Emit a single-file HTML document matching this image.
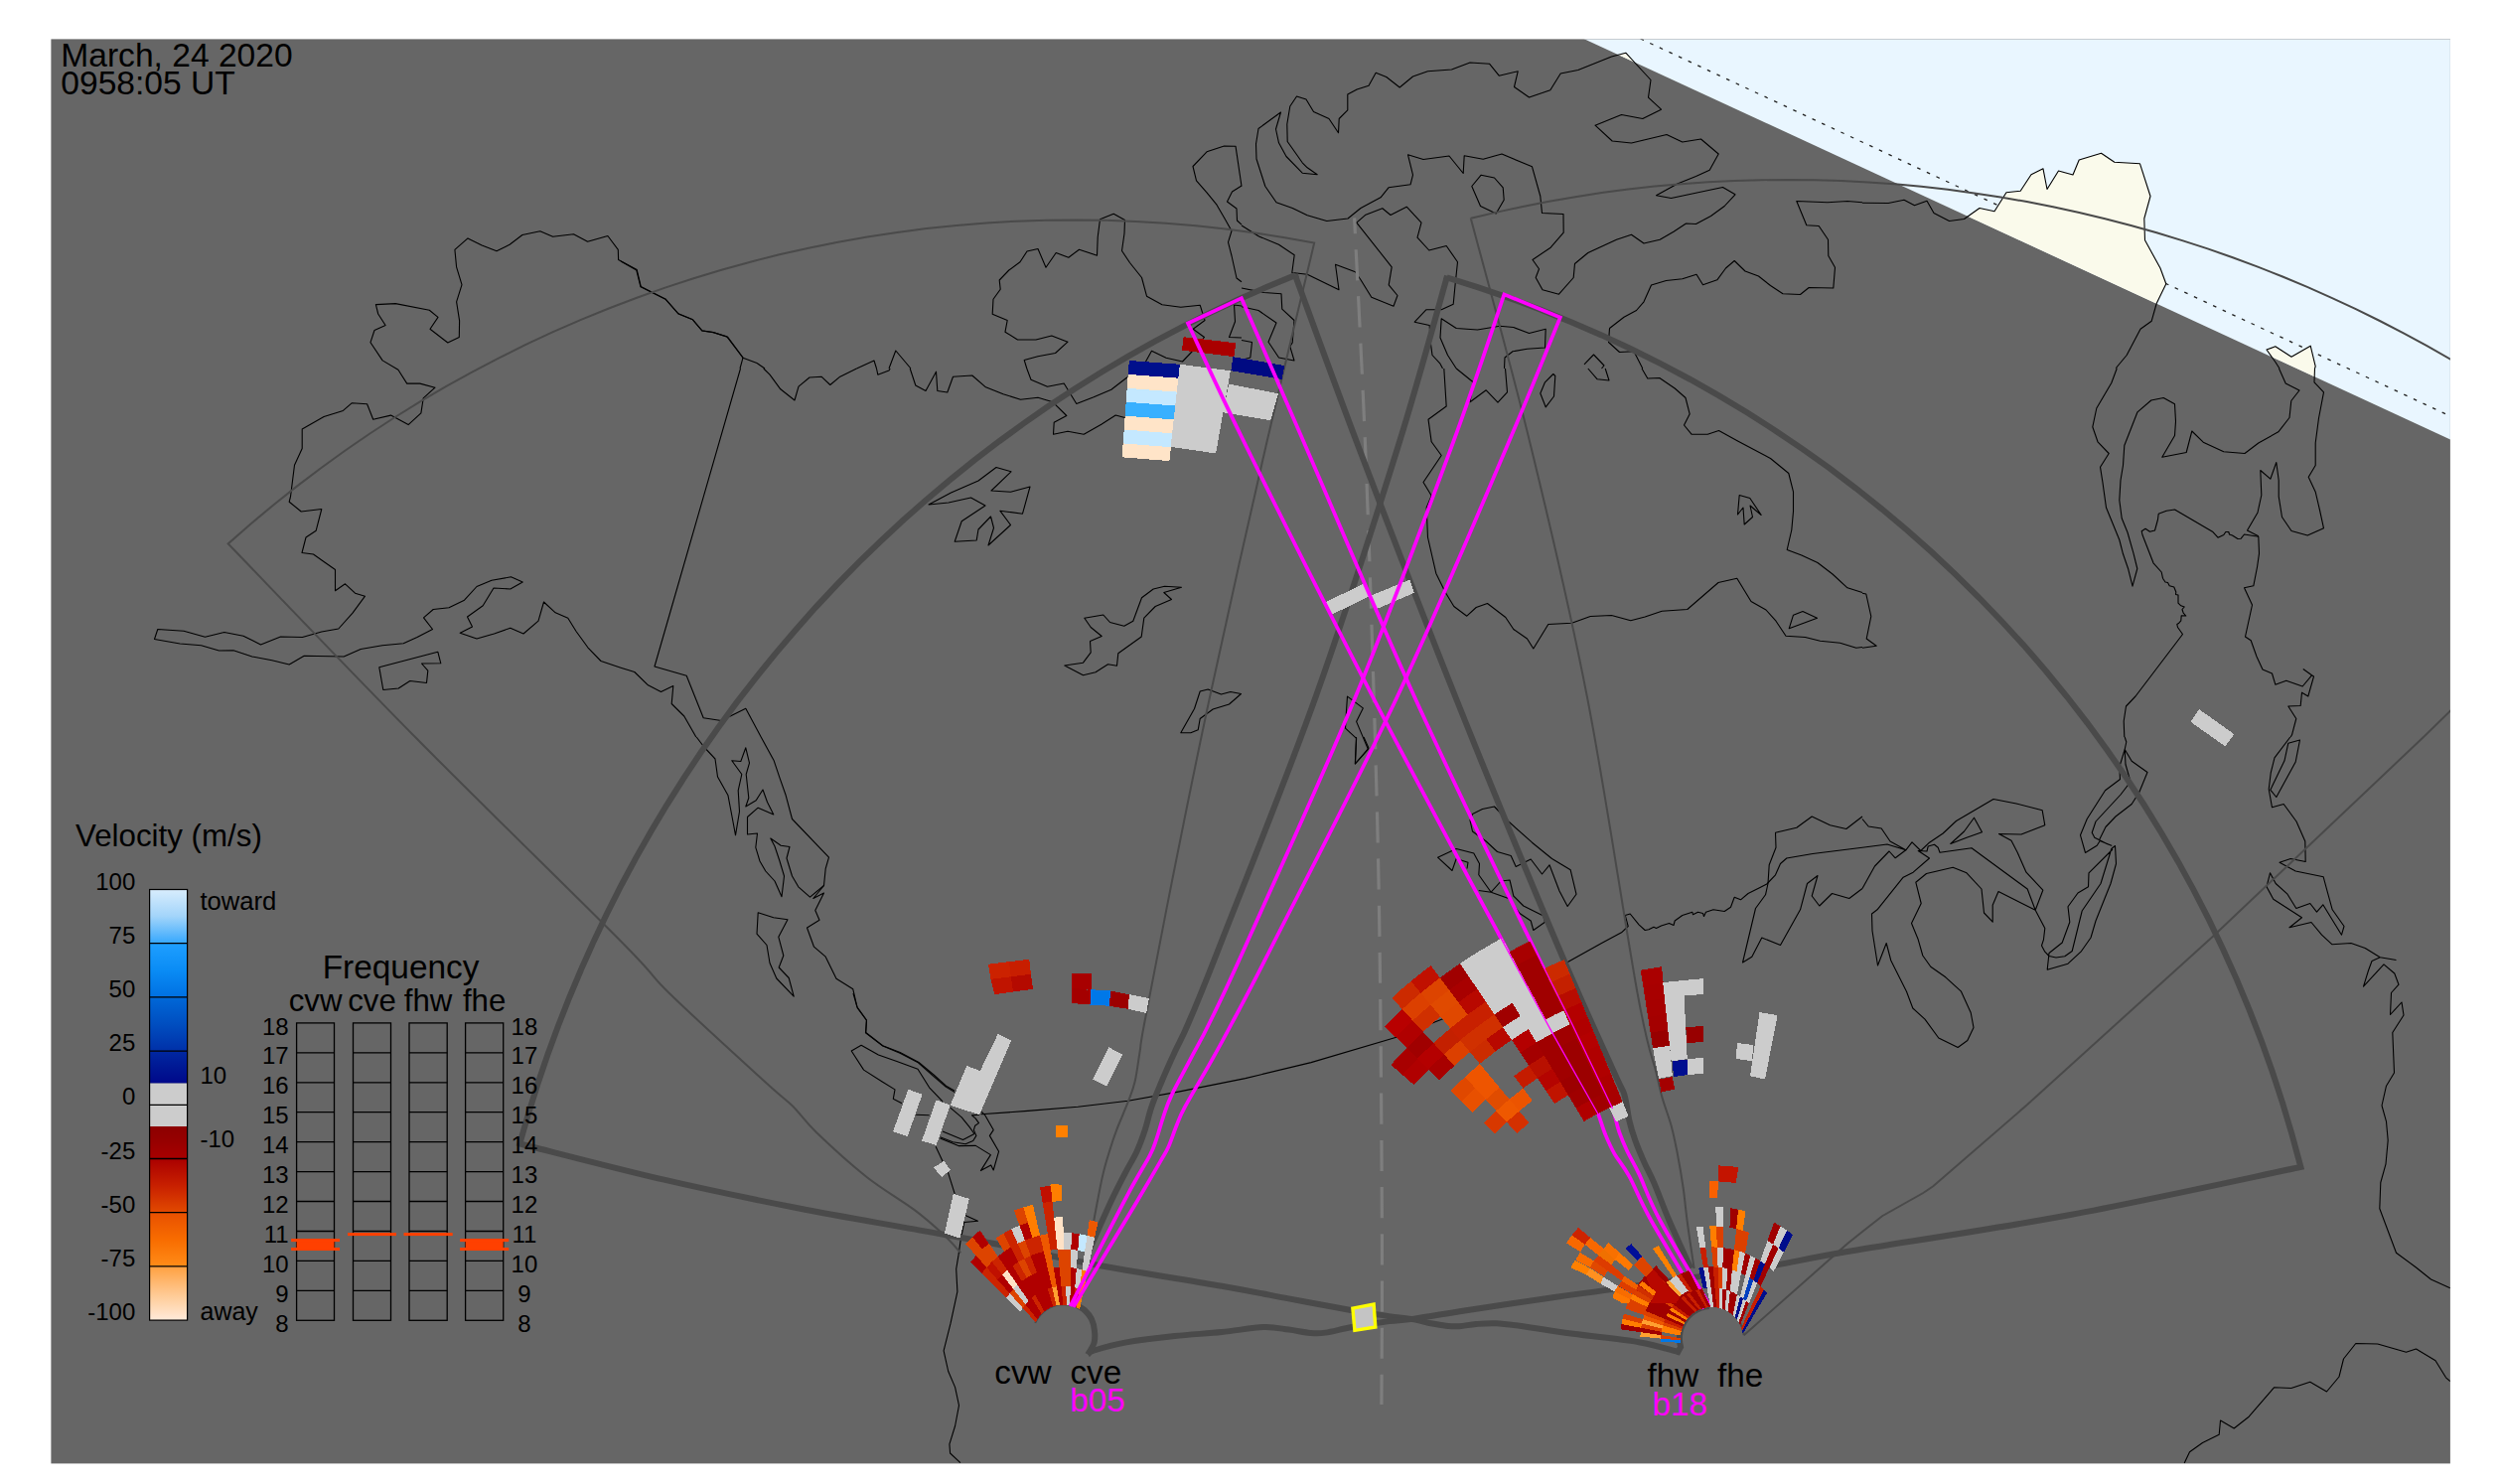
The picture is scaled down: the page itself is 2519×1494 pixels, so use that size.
<!DOCTYPE html>
<html><head><meta charset="utf-8"><title>Radar map</title>
<style>
html,body{margin:0;padding:0;background:#fff;}
body{width:2519px;height:1494px;overflow:hidden;}
svg{display:block;}
text{font-family:"Liberation Sans",sans-serif;fill:#000;}
.c{fill:none;stroke:#000;stroke-width:1.1;stroke-linejoin:round;}
.tk{fill:none;stroke:#4a4a4a;stroke-width:6;stroke-linejoin:miter;}
.tn{fill:none;stroke:#4a4a4a;stroke-width:2;}
.mg{fill:none;stroke:#ff00ff;stroke-width:3.7;stroke-linejoin:miter;}
</style></head><body>
<svg width="2519" height="1494" viewBox="0 0 2519 1494">
<rect x="0" y="0" width="2519" height="1494" fill="#fff"/>
<clipPath id="mapclip"><rect x="51.4" y="39.4" width="2415.5" height="1434"/></clipPath>
<rect x="51.4" y="39.4" width="2415.5" height="1434" fill="#666666"/>
<g clip-path="url(#mapclip)">
<path d="M1594.4,39 L2566.75,488.5 L2567,39 Z" fill="#e9f6ff"/>
<clipPath id="dayclip"><path d="M1594.4,39 L2566.75,488.5 L2567,39 Z"/></clipPath>
<path d="M1651.6,39 L2466.75,418.8" stroke="#222" stroke-width="1.3" stroke-dasharray="3.6,7" fill="none"/>
<g clip-path="url(#dayclip)">
<path d="M1289.5,113 1267,129.5 1264.5,145 1265,160 1273.8,187.5 1285,203.8 1301.2,209.5 1316.2,216.8 1335.8,222.5 1357,220 1370,209.5 1390,198.8 1398,188.8 1420,185.8 1422.5,176.2 1417.5,155.8 1433,160.5 1459,157 1473.2,174.5 1474.2,156.8 1493.2,160.2 1512,155 1542.5,167.8 1550.8,197.5 1552.5,214.5 1574,215.5 1574.2,234.2 1561.2,249.2 1543,261.5 1549.5,270.8 1546.2,279.5 1553,291.8 1569.5,296.2 1584.2,279.5 1585.5,265.5 1598.8,254.5 1627.5,241.2 1642.5,236.2 1655,245 1671.2,241.2 1685,233.2 1697.5,225 1707.5,225.5 1722.5,217.5 1736.2,207.5 1747,195.8 1734.5,188.5 1682.5,199.5 1667.5,196.8 1688.8,185 1707.5,177.5 1721.2,171.2 1730.2,155 1712.5,140 1693.8,143 1678,135.5 1642.5,144 1623.2,142 1606,126.2 1632.5,115.5 1653.8,119.5 1672.5,110.2 1659.5,98.2 1662,80.5 1650,67.5 1636.8,53.2 1622.5,57 1588.8,70.5 1571.2,74 1560.8,90.8 1539.5,98 1524.5,87.5 1528.2,71.8 1509.2,76.2 1499.5,64.2 1480,63 1461.5,70 1437.5,71.8 1422.5,77 1409.2,88 1395.8,77.5 1385.2,73.2 1378,86.2 1366.2,90 1356.8,95 1356.8,110.8 1348.2,119.5 1347.5,133.8 1338,119.5 1322.5,112.5 1315,100 1305.5,97 1298.8,107 1295.8,125 1296.2,142.5 1311.2,163.8 1316.2,168.8 1326.2,175.8 1311.2,174.2 1295,157.5 1287.5,143.8 1284.5,130Z" fill="#fafaeb"/>
<path d="M1875,204.2 1901.2,204.5 1917,201.2 1927.5,206.8 1940,202.2 1947,214.5 1962.5,222.5 1977.5,220.5 1993,209.5 2008,212.8 2020,193.8 2034.2,192.2 2045,175.8 2057,169.8 2061,190.5 2072.5,172 2087,176 2093.2,161 2115.5,154.2 2128.8,163.2 2154.5,164.8 2165,197.5 2158.8,220 2159.5,241.8 2175,270 2180.8,285.8 2171.2,305.5 2166.2,323.2 2155,331.2 2141.2,357.5 2131.2,369.5 2130.5,371 1875,371Z" fill="#fafaeb"/>
<path d="M2295,371 2291.2,365 2282,352 2290.8,348.8 2307,359.2 2326.2,348.2 2331.2,368.8 2330.5,371 2330.5,425 2295,425Z" fill="#fafaeb"/>
</g>
<path class="c" d="M292.5,500 296.5,468.3 304.2,451.5 304.2,431.9 326.1,419.5 345.4,413.4 354.4,405.7 369.6,406.7 375.7,422.2 393.5,418.1 411.1,427.6 423.9,415.8 426.2,400.9 438,390.2 422.8,386.1 409.7,386.1 400.9,372.3 385.1,362.9 373,344.7 377,332.5 388.1,327.5 380.7,316 378.4,306.6 398.2,305.6 432.3,312.3 441,319.4 433,331.2 450.8,345 462.3,339.6 462.6,322.8 459.6,303.9 465,286.7 459.6,268.9 457.9,251.3 471,239.9 485.2,247 500,252.7 513.1,246.3 525.9,236.5 543.8,232.8 556.6,238.2 577.5,235.8 591.6,243.3 611.9,237.5 622.3,251.3 622.6,261.5 641.2,271.6 645.2,288.4 669.8,300.9 683,316 697.4,321.8 706.9,332.9 718,334.6 731.8,338.9 748.3,360.5"/>
<path class="c" d="M625,263 640.8,272 645,288.8 670,301.2 683,315.8 697.5,321.8 706.8,333 718,334.5 732.5,339.2 748,360.2 762,365.5 770,371"/>
<path class="c" d="M748,360.2 745,371"/>
<path class="c" d="M862.5,371 880,363 882.5,371"/>
<path class="c" d="M895,371 901.8,353 917,371"/>
<path class="c" d="M1033.8,371 1031.2,362.5 1045,358.8 1062.5,355.5 1075,344.2 1058.8,338 1043,342 1024.5,342 1012,334.2 1014.2,322.5 999.2,316.2 1000,301.2 1007.2,291.2 1006.2,282 1015.8,272 1027,263.8 1034,253 1045,250.5 1053,269.2 1063.2,254.5 1075.8,259.2 1086.5,251.2 1104.5,257.2 1105.2,238.8 1107.5,220.8 1121.2,215.2 1132.5,221.5 1132,235 1129.5,252.5 1137.5,264.5 1149.5,279.5 1154.5,298.2 1170,306.8 1188.8,309.2 1208.2,307.2 1210.8,315.5 1213,322.5 1201.2,331.2 1212.5,339.5 1203.8,350 1190.5,364 1174,360.2 1159.5,353.2 1152,366.8 1150,371"/>
<path class="c" d="M1250,187.5 1244,147.2 1232.5,147 1215,152.8 1201,167.5 1204.5,181.8 1215,193.8 1225,206.2 1233,220 1240,232.5 1236.5,243.8 1240,257.5 1245,280 1250,283.8"/>
<path class="c" d="M1250,187 1240.5,193 1235.5,203 1245,210 1245.5,222 1250,226.2"/>
<path class="c" d="M1250,340 1237.5,339.5 1243.5,323.8 1242.5,307 1250,308"/>
<path class="c" d="M1289.5,113 1267,129.5 1264.5,145 1265,160 1273.8,187.5 1285,203.8 1301.2,209.5 1316.2,216.8 1335.8,222.5 1357,220 1370,209.5 1390,198.8 1398,188.8 1420,185.8 1422.5,176.2 1417.5,155.8 1433,160.5 1459,157 1473.2,174.5 1474.2,156.8 1493.2,160.2 1512,155 1542.5,167.8 1550.8,197.5 1552.5,214.5 1574,215.5 1574.2,234.2 1561.2,249.2 1543,261.5 1549.5,270.8 1546.2,279.5 1553,291.8 1569.5,296.2 1584.2,279.5 1585.5,265.5 1598.8,254.5 1627.5,241.2 1642.5,236.2 1655,245 1671.2,241.2 1685,233.2 1697.5,225 1707.5,225.5 1722.5,217.5 1736.2,207.5 1747,195.8 1734.5,188.5 1682.5,199.5 1667.5,196.8 1688.8,185 1707.5,177.5 1721.2,171.2 1730.2,155 1712.5,140 1693.8,143 1678,135.5 1642.5,144 1623.2,142 1606,126.2 1632.5,115.5 1653.8,119.5 1672.5,110.2 1659.5,98.2 1662,80.5 1650,67.5 1636.8,53.2 1622.5,57 1588.8,70.5 1571.2,74 1560.8,90.8 1539.5,98 1524.5,87.5 1528.2,71.8 1509.2,76.2 1499.5,64.2 1480,63 1461.5,70 1437.5,71.8 1422.5,77 1409.2,88 1395.8,77.5 1385.2,73.2 1378,86.2 1366.2,90 1356.8,95 1356.8,110.8 1348.2,119.5 1347.5,133.8 1338,119.5 1322.5,112.5 1315,100 1305.5,97 1298.8,107 1295.8,125 1296.2,142.5 1311.2,163.8 1316.2,168.8 1326.2,175.8 1311.2,174.2 1295,157.5 1287.5,143.8 1284.5,130Z"/>
<path class="c" d="M1491.2,176.2 1504.5,179 1513.2,188.8 1514.2,201.2 1506.2,215 1490.5,207.5 1481.8,187.5Z"/>
<path class="c" d="M1250,227 1267.5,238 1287.5,246.2 1303.2,256.8 1300.8,274.5 1316.2,276.2 1348,291.8 1344.5,266.2 1364.5,273.8 1370,281.8 1380.8,299.2 1403,308.2 1407,297.5 1398.2,286.8 1401.2,268.8 1365.8,224.2 1375,216.2 1391.8,209.8 1400,216.5 1416.2,208.2 1431,224.2 1427,239.2 1438.8,252 1456.2,247.5 1467.5,263.8 1465,287.5 1463.2,306.2 1451.2,311.8 1435.8,311.8 1424.2,324.2 1439.2,327.5 1440,342.5 1442,357.5 1450,366.2 1452.5,371"/>
<path class="c" d="M1250,290 1272.5,294.5 1290,295.8 1290.8,311.2 1303,322.5 1301.2,345 1298.8,348.8 1303,363 1287.5,360 1277,344.2 1285,325 1267,312.5 1250,308.8"/>
<path class="c" d="M1250,342.5 1260.5,344.5 1258.8,360 1250,362.5"/>
<path class="c" d="M1466.2,371 1457.5,357.5 1450,340 1451.2,320.8 1466.2,330.5 1487.5,332 1510,328.2 1523.8,329.5 1539.5,335.5 1556.2,331.2 1555.5,350 1537.5,351.2 1523,353.8 1515,360 1514.5,371"/>
<path class="c" d="M1653.8,371 1645,353.8 1630.5,354.5 1619.5,344.5 1620.5,330.5 1635,319.2 1647.5,312.5 1655,303.8 1662.5,287 1677.5,282.5 1693.8,280.8 1708,276.2 1714.5,286.8 1728.8,281.8 1737.5,270 1746.2,262.5 1757,273 1770.5,278 1782.5,287.5 1795,295.8 1812.5,296.5 1821.2,289.5 1845.8,290 1847.5,269.2 1840.8,257.5 1840.5,241.2 1831.2,227.5 1818.8,226.8 1808.8,202.5 1840,203.8 1860,202.5 1875,203.8"/>
<path class="c" d="M1595,366.8 1604.5,357 1615,368 1612.5,371"/>
<path class="c" d="M1875,204.2 1901.2,204.5 1917,201.2 1927.5,206.8 1940,202.2 1947,214.5 1962.5,222.5 1977.5,220.5 1993,209.5 2008,212.8 2020,193.8 2034.2,192.2 2045,175.8 2057,169.8 2061,190.5 2072.5,172 2087,176 2093.2,161 2115.5,154.2 2128.8,163.2 2154.5,164.8 2165,197.5 2158.8,220 2159.5,241.8 2175,270 2180.8,285.8 2171.2,305.5 2166.2,323.2 2155,331.2 2141.2,357.5 2131.2,369.5 2130.5,371"/>
<path class="c" d="M2295,371 2291.2,365 2282,352 2290.8,348.8 2307,359.2 2326.2,348.2 2331.2,368.8 2330.5,371"/>
<path class="c" d="M292.5,500 291.2,505.2 303.2,515 323.8,512.5 318.2,534.2 308,541 304,556.5 315.5,558 325,564.8 337.5,573.5 337.5,594.8 347.5,587.8 357.5,597.2 367.5,600.2 355,617.2 340.8,633 323.8,636 304.5,641.5 282.5,641 262.5,649 245,640.2 225.8,636.5 206.5,641.2 185,635.2 158.8,633.5 155.5,643.5 181.2,648 202.5,649.8 220.5,655 235,654.8 253.8,661 273.8,664.8 291.2,669 306.2,660.2 346.2,661 363.2,653.5 385,649.8 406.2,647.8 420,641.5 435.5,633.5 426.5,621.8 436.2,613.5 452,611.8 467.5,604.2 480,590.5 495,584.2 514.5,580.8 526.2,586 513.8,593 497,592 486.2,609.8 470.5,621 475.5,631 463.2,637.2 480,643 497.5,638 513.8,632.2 527,638 542,625.2 547.5,606 559.2,616.8 571.8,622.2 580,635.5 591.8,651.8 605,665.5 625,672.2"/>
<path class="c" d="M381.8,671.8 440.8,656.2 443.8,667.8 424.5,668 430.8,675.2 429.5,687.5 412.8,685.5 401.2,693 385.8,694.5Z"/>
<path class="c" d="M745.5,371 659,671 691.2,680.2 708.2,722.8 726.2,725.5 750.8,713.2 766.2,742"/>
<path class="c" d="M625,672.2 638.8,676.5 652.5,689.8 665.5,696.5 677.8,690.5 676.2,708.5 688.8,721 700.8,742"/>
<path class="c" d="M768.8,371 775,377.2 785.8,391.8 800,403 804,389.2 815,380 827,379.2 835.8,387.5 845.8,379.2 862.5,371"/>
<path class="c" d="M882.5,371 883.8,377.2 895,373 896.2,371"/>
<path class="c" d="M916.2,371 921.8,388 932,393.5 942.5,374.2 943.8,393.5 953.8,395 959.5,379.2 978.8,378 992.5,389.8 1010,396.8 1027.5,402.2 1045,400.2 1060,404.8 1073.8,418.5 1061.2,425.2 1060.5,437.2 1075,434.2 1091.2,437.2 1108.8,427.2 1123.2,418 1132.5,420.5"/>
<path class="c" d="M1033.8,371 1038,382.2 1054.5,389.2 1071.2,386 1083.8,406.5 1101.2,399.8 1118.8,392.2 1135,379.8"/>
<path class="c" d="M935,508 957.5,496 985,484 1003,470.5 1018,474.8 998,494 1017.5,495.2 1037,490 1029.5,517.2 1006.8,514.2 1017.5,528.5 995,549 1000.5,531.5 997.5,520 985,533 983.2,544 961.2,545.2 968.2,524.8 992,509 977.5,501 955,506Z"/>
<path class="c" d="M1071.8,670 1090.5,667.2 1098.2,656.8 1097.5,645.5 1109.2,640.5 1098.2,631.5 1091.8,622.2 1110.8,619 1117.5,626.5 1131.8,630.2 1140.8,625.2 1149.5,601.8 1161.2,593 1172.5,590.2 1189.5,591.2 1171.8,596.5 1179.5,603.5 1163.2,610.5 1151.8,622.2 1149.2,641 1125.8,657.8 1124.5,670.2 1115.5,668.8 1103,676.8 1090.5,679.8Z"/>
<path class="c" d="M1188.8,737.8 1202.5,713.5 1208.2,696 1216.2,694 1229.5,699 1238.8,696.5 1249.5,698.5 1237.5,709 1221.2,714 1208.2,723.5 1206.2,734.8 1198.8,737.8Z"/>
<path class="c" d="M1453.8,371 1456.2,409 1438,422.2 1441.2,444.8 1451.2,458.5 1433,485.5 1441.2,499 1436.2,511 1437.5,541 1445.8,577.2 1455,596 1463.8,610.5 1476.8,620.2 1486.2,611.5 1497.5,607.5 1515.8,621.5 1523.8,633.5 1537.5,643 1543.8,653 1558.8,628.5 1582.5,627.2 1601.2,620.5 1622.5,619.5 1641.8,624.8 1656.2,621 1673.2,615.2 1698.8,613.5 1730,586.5 1748.8,582.2 1763,605.5 1778,614 1788,625.2 1798,640.2 1817.5,641.5 1832.5,645.2 1852.5,647.2 1868.8,652.2 1875,651.5"/>
<path class="c" d="M1466.2,371 1483.2,384.8 1480,404.8 1496.2,392.8 1508,405.2 1517.5,394.8 1515.5,371"/>
<path class="c" d="M1550.8,396 1555.5,384.8 1563.8,376.5 1565.8,378.5 1564.5,399 1556.2,409.8Z"/>
<path class="c" d="M1598.8,371 1608.2,381.8 1620,383 1616.2,371"/>
<path class="c" d="M1653,371 1658.8,381 1670.8,380.5 1686.2,391 1697,400.5 1701.2,416.8 1695.5,428 1703,437.2 1719.2,437.2 1730.5,433.5 1750,444.2 1782.5,461.5 1800.8,476.5 1805.5,495.2 1805.5,514.8 1803.8,533.5 1799.2,553.5 1813.8,559 1830,566.5 1845,578 1860,591.8 1875,596.5"/>
<path class="c" d="M1751.2,498.5 1761.8,501.5 1773.2,518.5 1762,509 1764.5,520.5 1756.2,528 1755,511 1749.5,518Z"/>
<path class="c" d="M1801.2,632.8 1805.5,619.2 1815,615.5 1829.5,622.2Z"/>
<path class="c" d="M1356.5,701.1 1372.3,712.9 1365.6,726.4 1377.4,754.4 1364.3,768.9 1365.6,743.3 1354.5,733.2 1355.5,715.6Z"/>
<path class="c" d="M2131.2,371 2125.8,385.5 2110.8,411 2106.8,429.8 2112,444.8 2123.2,456.5 2114.5,470.2 2117,486 2120.5,511 2133.8,543.5 2137.5,557.8 2142.5,572.2 2147,590.2 2151.8,572.5 2148,557.2 2142,536 2136.2,521.8 2133.8,503.5 2135,483.5 2137.5,468.5 2138.8,448.5 2152,414.8 2165.8,403 2178.2,400.5 2189.5,406.8 2190.5,424.2 2189.5,438.5 2176.8,460.2 2201.2,455.5 2206.8,434 2218.2,445.2 2238.8,454.8 2260,456.5 2273.8,446 2293.8,434.8 2305,420.5 2306.8,403.5 2315,393 2301.2,386 2294.5,371"/>
<path class="c" d="M2330.5,371 2330,384.8 2339.5,394.8 2334.5,421 2331.2,446 2331.2,468.5 2324.2,480.2 2331.2,495.2 2335.5,513.5 2339.5,531.8 2323.2,539 2307,534.5 2297.5,520.5 2294.2,499.8 2294.2,483.5 2291.8,465.5 2285.8,482.2 2275.8,473.5 2276.8,498.5 2273,516 2262.5,534 2273.8,539.8"/>
<path class="c" d="M2138.8,742 2138.2,726 2140.5,711 2150,701 2197.5,638.5 2192.5,631.5 2191.8,628.5 2193.8,627.2 2195.8,624.8 2196.2,619.8 2200.8,620 2198.2,617.2 2197,613.5 2199.2,611 2195.8,609.8 2193,607.2 2193,599 2190.5,598.5 2190.8,596 2188.8,591 2184.2,589.8 2182.5,586.5 2180,586 2177.5,582.2 2176.2,576 2168,566.8 2157,538.5 2156.2,534.8 2160,532.2 2164.5,535.2 2169.5,534 2172.5,523 2173.2,517.2 2181.2,514.2 2189.5,513 2227.5,535.2 2233,541.2 2238.8,538.5 2240.8,535.5 2243.8,535.5 2244.5,538 2247.5,539 2253,542.5 2256.2,542.2 2259.5,538 2273.8,540.2 2274.5,557.2 2272.5,571 2268.8,589.8 2259.5,591.8 2267.5,609 2260.5,641 2266.2,644.8 2272,661 2278,674 2287.5,678 2290.8,689.2 2301.8,685.2 2318.2,691 2327.5,679.8 2318.8,673.5"/>
<path class="c" d="M2327.5,679.8 2329.5,681 2323.8,701 2317.5,697.2 2316.2,710.5 2303.8,711 2311.8,723.5 2307.5,739.8 2306.2,742"/>
<path class="c" d="M1875,597.2 1878.8,598 1883.8,620.5 1879.2,643 1889.2,650.2 1875,652.2"/>
<path class="c" d="M766.2,742 779.2,765.8 785,783.2 791.2,800.8 797.5,824.5 834.5,863.2 831.2,874.5 829.5,891.5 818.8,904.5 829.5,899 820.8,916.5 825,926.2 812.5,934 819.5,953.2 831.2,963.2 842,985.2 858.8,995.8 863,1013.8 872.5,1027 871.8,1039.5 888.8,1052.8 906.2,1059.5 925,1069.5 940,1082 952.5,1093.2 961.2,1098.2"/>
<path class="c" d="M701.2,742 708.8,752 720,764 722.5,782 733,800.8 737,822 740.5,840.8 744.5,817 743.2,795.8 746.8,779.5 736.8,765.8 745.8,766.5 750.8,752.8 754.5,768.2 751.2,779.5 753.8,803.2 750.8,812 761.2,805.8 768,795 772.5,807.5 778.8,820 763.2,813.2 752.5,822.5 752.5,840 762.5,839 760.8,853.2 765,867 770.8,877 780,887 787,902.8 789.5,882 785,867 780,852 775.8,844 786.2,851.2 795,852.5 792,864 797.5,882 803.8,892.8 815.5,903.2 829.5,891.5"/>
<path class="c" d="M763.2,918.8 778.8,923.8 793,925.8 783.8,943.2 788.8,962 784.2,974 794.2,984.5 799.2,1003.2 781.8,985 775,969.5 772,951.5 762,940.2Z"/>
<path class="c" d="M1482.5,819.5 1492.5,814.5 1504.5,812 1518.8,827 1542.5,848.2 1562.5,864.5 1581.2,875.8 1587,900.2 1578.2,912.5 1570,897 1560,870.8 1552.5,880 1541.2,865 1526.2,872.5 1521.2,861.5 1507.5,857.5 1496.2,847 1482.5,837 1480,825.8Z"/>
<path class="c" d="M1488.8,896.5 1501.2,898.2 1488.8,880.8 1489.5,869.5 1483.8,859 1466.2,854.5 1447.5,863.2 1462,876.5 1466.2,864.5 1478,868.2 1477,874.5"/>
<path class="c" d="M1501.2,898.2 1511.2,887 1520,886 1523.8,902 1533.8,912 1553.8,922 1555.5,928.2 1543.8,936.5 1541.2,927 1530,919.5 1518.8,904.5 1501.2,898.2"/>
<path class="c" d="M1405,1044.5 1475,1017 1577.5,969 1612.5,949.5 1632.5,938.8 1639.2,932.5 1636.2,921.5 1641.2,920 1650,930.8 1656.2,936.5 1660,935.8 1665,933.2 1667.5,934.5 1672.5,932 1680.5,929.5 1685,931.5 1686.2,927 1693.8,921.5 1703.8,918.2 1704.5,920.8 1709.5,918.2 1714.5,919.5 1715.5,922.5 1717.5,918.2 1725,915.8 1736.2,917.5 1742.5,913.2 1746.2,903.2 1752.5,905.8 1760,899.5 1772.5,893.2 1778.8,890 1787.5,880.8 1792.5,869.5 1798.8,864 1825,859.5 1875,853.2"/>
<path class="c" d="M1875,822 1858.8,834.5 1842.5,830.8 1824.2,822 1808.8,833.2 1787.5,838.2 1788,853.2 1781.2,870.8 1780,889.5 1777.5,900.8 1767.5,914.5 1754.5,969 1763.8,963.2 1773.8,944 1792.5,951.5 1812.5,915.8 1819.5,889.5 1830,881.5 1824.2,902 1831.8,912 1844.5,899.5 1861.8,904.5 1875,894.5"/>
<path class="c" d="M1365.5,742 1364.5,769 1378,753.2 1373,742"/>
<path class="c" d="M1875,824.5 1881.2,832 1894.2,834 1903,847 1918.8,855.8 1900,850 1875,853.2"/>
<path class="c" d="M1875,894.5 1887.5,872 1902,857 1908.2,863.8 1918.8,855.8 1925,847.8 1933.8,856.5 1942.5,848.2 1956.2,839 1969.5,826.5 2007,804.5 2030,809 2056.2,815.8 2058.8,830.8 2035,840 2012.5,839.5 2025,846.2 2031.2,858.2 2040,878.2 2056.8,896.2 2049.2,916.2 2012,897.5 2006.2,911.2 2006.2,928.2 1997.5,919 1995,895 1980,878.8 1966.2,873.2 1939.5,879.5 1928.8,888.2 1934.2,909.5 1924.5,929.5 1931.2,945.8 1935.8,962 1943.8,973.2 1958.8,983.8 1974.5,998.2 1984.2,1019.5 1987,1034.5 1980.8,1047.5 1971.2,1054.5 1951.8,1045 1938,1026.2 1925.8,1015 1919.5,998.2 1903.8,967 1899.2,949.5 1890.5,972 1885,937 1884.5,920 1890,915.8 1916.2,883.2 1926.2,878.2 1942.5,864 1931.2,856.5 1940,857 1941.2,852 1947.5,850.2 1951.2,853.2 1953,858.2 1985,853.8 2041.2,895 2049.2,916.2 2058.8,934.5 2057.5,945.8 2055.5,952 2058.8,958.2 2063,962.5 2070,964 2078.8,962.8 2086.2,957.5 2096.2,917 2115,889.5 2125.8,854.5 2129.5,851.5 2130.5,869.5 2125,889.5 2115,914.5 2110,927 2105,944 2095,958.2 2082,970.2 2061.2,976.2 2063,959.5 2076.2,949 2083.8,928.2 2082,912.8 2092,899 2102.5,892.8 2103,878.8 2127,855"/>
<path class="c" d="M1963.8,849.5 1977.5,837 1987.5,823.2 1995.5,837.8 1980,843.2Z"/>
<path class="c" d="M2139.2,742 2140.8,747 2139.2,754.5 2133.8,772 2134.5,784.5 2119.5,795.8 2101.2,824.5 2094.5,840.8 2099.5,858.5 2111.2,851.2 2114.2,846.5 2125.8,851.2 2121.2,849.5 2108.8,843.2 2106.2,838.2 2110,827 2135,800 2145,787 2140,769.5 2139.2,754.5 2146.2,766.2 2162,777.5 2153.8,797.5 2146.2,809.5 2130,822 2120,832.5 2113.8,845"/>
<path class="c" d="M2305.8,742 2290,762.8 2286.2,778.2 2284.2,794.5 2287.5,812.8 2299.2,809.5 2312,827 2320.8,847 2321.2,867.5 2306.2,864.5 2295,868.2 2311.2,877 2339.2,882.8 2342.5,895.2 2348.2,915.8 2360,932.5 2357.5,941.2 2338.8,910.8 2332.5,918.2 2325.8,909.5 2311.8,914.5 2303,900.2 2291.2,889.5 2285.5,878.8 2282,892.8 2288.8,905.2 2317.5,923.8 2305,933.8 2327,928.5 2337.5,941.2 2348,950.8 2367,949.5 2381.2,954.5 2396.2,963.8 2412.5,966.5"/>
<path class="c" d="M2396.2,963.8 2388,967.5 2384.5,977 2379.5,993.2 2400,970.8 2410.8,980 2415,991.2 2407.5,999.5 2406.5,1021.5 2418,1009 2420,1022 2408.8,1039.5 2410.5,1080 2402.5,1093.2 2398,1113"/>
<path class="c" d="M2285.8,795.2 2300,765.8 2303.8,748.2 2315.5,745 2311.2,767 2291.8,802.5Z"/>
<path class="c" d="M2398,1113 2402.5,1129.2 2404.2,1148 2402,1171.8 2396.8,1190.5 2395.8,1216.8 2412.5,1261.2 2432.5,1276 2447.5,1288 2466.8,1296.8"/>
<path class="c" d="M2199.2,1473 2204.5,1461.8 2217.5,1452.5 2234.2,1444.2 2235.5,1430 2249.2,1438 2264.2,1426.2 2289.5,1396.8 2306.8,1397.5 2325.8,1391.2 2342.5,1401 2355,1386 2359.5,1368 2371.8,1352.5 2393.8,1353 2422.5,1361.2 2432.5,1358 2452,1369.8 2462.5,1386.8 2466.8,1390.5"/>
<path class="c" d="M859,1000 863.2,1014.7 872.4,1027.3 871.5,1039.9 888.8,1053.1 906.1,1060.2 924.4,1069.8 939.4,1083.2 952.2,1094.1 961.2,1099.6"/>
<path class="c" d="M949,1108.8 935.6,1094.8 924,1076.2 902.9,1068.5 884.4,1062.1 867.1,1052.2 857.2,1058 869.6,1077.1 888.2,1089 901,1096.9 899.3,1106.3 908,1110.8"/>
<path class="c" d="M922.1,1122.3 935.6,1122.7"/>
<path class="c" d="M987.6,1121.8 1034.8,1118.4 1085.3,1114.2 1135.8,1108.3 1186.4,1099.1 1253.8,1085.6 1320,1069.6 1405,1044.5"/>
<path class="c" d="M956.7,1115.2 968.2,1124.8 975.9,1134.4 981,1141.5 969.5,1147.5 949,1138.9"/>
<path class="c" d="M946.5,1144.7 959.3,1149.8 972.1,1151.7 979.7,1148.5 982.9,1143.4 980.4,1137.6 981.7,1133.2 985.5,1130.6 982.3,1126.1 978.5,1122.9 986.1,1122.3"/>
<path class="c" d="M988.1,1119.1 991.9,1122.9 1000.2,1137.6 996.4,1143.4 1005.6,1159.2 1000.2,1178 997.7,1172.9 987.4,1178.6 997.4,1162.6 982.3,1153.4 965,1153.6 946.5,1146"/>
<path class="c" d="M942.1,1154.2 954.7,1181.2 961.1,1201.4 969.6,1222.5 984.5,1229.3 970.8,1230.5 967.3,1247.7 965,1263.7 962.7,1277.5 963.9,1300.4 957,1332.4 950.1,1359.9 954.7,1380.5 961.6,1396.6 965.5,1414.9 961.6,1435.5 955.9,1453.9 956.6,1463 966.9,1472.6"/>
<path class="tn" d="M967.3,1261.4C964.4,1258.4 957.9,1250.3 950.1,1243.1C942.3,1235.8 933.4,1227.6 920.4,1217.9C907.4,1208.2 888.7,1197.7 872.3,1184.7C855.9,1171.7 834.4,1152.0 821.9,1140C809.4,1128.0 806.0,1121.3 797.5,1113C789.0,1104.7 791.8,1108.8 771.2,1090C750.6,1071.2 698.3,1023.8 673.9,1000C649.5,976.2 667.6,990.5 625,947.5C582.4,904.5 483.9,808.7 418,742C352.1,675.3 261.2,579.9 229.8,547.5 L229.7,547.4 252.4,527.5 275.5,508.2 299.1,489.4 323.1,471.2 347.6,453.5 372.4,436.5 397.7,420 423.3,404.2 449.3,388.9 475.7,374.3 502.4,360.3 529.4,346.9 556.8,334.2 584.4,322.1 612.3,310.7 640.5,300 668.9,289.9 697.5,280.5 726.4,271.7 755.5,263.7 784.7,256.3 814.1,249.7 843.7,243.7 873.3,238.4 903.1,233.9 933,230 963,226.9 993.1,224.4 1023.2,222.7 1053.3,221.7 1083.5,221.4 1113.6,221.8 1143.7,222.9 1173.8,224.8 1203.9,227.3 1233.9,230.6 1263.7,234.6 1293.5,239.2 1323.2,244.6 L1323.2,244.6C1315.0,278.8 1291.8,374.1 1274.3,450C1256.8,525.9 1234.1,627.2 1218.4,700C1202.7,772.8 1191.0,832.0 1180,887C1169.0,942.0 1157.6,1001.4 1152.2,1030C1146.8,1058.6 1149.2,1048.8 1147.6,1058.6C1146.0,1068.4 1144.6,1080.6 1142.6,1089C1140.6,1097.4 1138.9,1101.1 1135.8,1109.2C1132.7,1117.3 1127.2,1129.7 1124.1,1137.8C1121.0,1145.9 1119.5,1150.7 1117.3,1158C1115.0,1165.3 1112.8,1172.0 1110.6,1181.6C1108.3,1191.1 1106.2,1202.7 1103.8,1215.3C1101.4,1227.9 1097.5,1250.4 1096.3,1257.4"/>
<path class="tn" d="M1705.6,1277C1704.4,1269.0 1700.4,1242.6 1698.6,1229C1696.8,1215.4 1696.3,1207.0 1694.6,1195.5C1692.9,1184.0 1690.6,1170.7 1688.6,1160.3C1686.6,1149.9 1685.1,1142.4 1682.6,1133.2C1680.1,1124.0 1676.0,1114.0 1673.5,1105.1C1671.0,1096.2 1671.7,1097.5 1667.5,1080C1663.3,1062.5 1660.2,1063.0 1648.6,1000C1637.0,937.0 1615.9,793.7 1598,702C1580.1,610.3 1561.0,530.4 1541.4,450C1521.9,369.6 1490.8,257.8 1480.7,219.4 L1480.8,219.8 1507,213.6 1533.2,208 1559.6,202.8 1586.1,198.2 1612.6,194.1 1639.3,190.6 1666,187.6 1692.8,185.2 1719.6,183.3 1746.4,182 1773.3,181.2 1800.1,180.9 1827,181.2 1853.9,182 1880.7,183.4 1907.5,185.3 1934.3,187.8 1961,190.8 1987.6,194.4 2014.2,198.4 2040.6,203.1 2067,208.2 2093.3,214 2119.4,220.2 2145.4,227 2171.3,234.2 2197,242.1 2222.6,250.4 2247.9,259.2 2273.1,268.6 2298.1,278.5 2322.9,288.9 2347.5,299.8 2371.8,311.1 2395.9,323 2419.8,335.4 2443.4,348.2 2466.7,361.5 2489.8,375.3"/>
<path class="tn" d="M1755.7,1344.2 1860,1252 1875,1240 1895,1224.25 1936.25,1201 1946.25,1194.25 2040,1113 2228.75,942 2440,742 2466.7,716 2500,683"/>
<path d="M1363.6,219.4C1365.4,257.8 1371.2,366.2 1374.6,450C1378.0,533.8 1381.4,640.2 1383.8,722C1386.2,803.8 1387.6,854.7 1388.9,941C1390.2,1027.3 1391.1,1161.2 1391.4,1240C1391.7,1318.8 1391.0,1385.0 1390.9,1414" stroke="#7e7e7e" stroke-width="3.2" stroke-dasharray="31.2,16" stroke-dashoffset="15.2" fill="none"/>
<path class="tn" d="M1720.6,1315 1724.5,1314.9 1728.4,1315.3 1732.2,1316.1 1735.9,1317.4 1739.4,1319.1 1742.6,1321.2 1745.6,1323.7 1748.3,1326.5 1750.6,1329.6 1752.5,1333 1754.1,1336.6 1755.1,1340.4 1755.7,1344.2"/>
<path class="tn" d="M1042.2,1331.9 1043.7,1328.9 1045.5,1326.2 1047.6,1323.6 1049.9,1321.2 1052.4,1319.2 1055.2,1317.4 1058.1,1315.9 1061.2,1314.7 1064.4,1313.8 1067.7,1313.3 1071,1313.2 1074.3,1313.4 1077.5,1314"/>
<path class="tk" d="M1702.3,1277C1698.7,1269.0 1686.7,1243.3 1680.6,1229C1674.5,1214.7 1669.7,1201.2 1665.5,1191.4C1661.3,1181.6 1658.7,1177.6 1655.5,1170.4C1652.3,1163.2 1648.9,1155.3 1646.4,1148.3C1643.9,1141.3 1642.2,1135.9 1640.4,1128.2C1638.6,1120.5 1637.9,1110.1 1635.4,1102.1C1632.9,1094.1 1636.6,1105.3 1625.3,1080C1614.0,1054.7 1594.3,1013.3 1567.5,950C1540.7,886.7 1498.0,783.3 1464.7,700C1431.4,616.7 1394.6,520.5 1367.8,450C1341.0,379.4 1314.5,305.6 1303.8,276.7 L1304,277.1 1275.2,289 1246.7,301.6 1218.5,314.9 1190.7,328.8 1163.2,343.4 1136,358.6 1109.2,374.5 1082.8,391 1056.8,408.1 1031.2,425.9 1006,444.2 981.2,463.1 957,482.6 933.1,502.7 909.8,523.3 887,544.5 864.6,566.2 842.8,588.4 821.5,611.1 800.8,634.4 780.6,658.1 761,682.3 741.9,706.9 723.5,732 705.6,757.5 688.4,783.4 671.7,809.8 655.7,836.5 640.3,863.6 625.6,891 611.5,918.8 598.1,946.9 585.4,975.3 573.3,1004 561.9,1033 551.2,1062.3 541.2,1091.8 531.9,1121.5 523.3,1151.4 L523.6,1151.5C547.8,1157.5 621.9,1176.9 668.5,1187.7C715.1,1198.5 761.3,1208.0 803.2,1216.3C845.1,1224.6 886.4,1231.3 920,1237.4C953.6,1243.5 974.4,1246.9 1004.7,1252.8C1035.0,1258.7 1064.2,1266.0 1101.7,1273C1139.2,1280.0 1197.4,1289.1 1230,1294.8C1262.6,1300.5 1275.5,1303.3 1297.4,1307.4C1319.3,1311.5 1344.6,1316.2 1361.4,1319.2C1378.2,1322.2 1388.1,1323.6 1398.5,1325.1C1408.9,1326.6 1416.7,1327.2 1423.7,1328.4C1430.7,1329.6 1435.3,1331.2 1440.6,1332.3C1445.9,1333.3 1450.9,1334.2 1455.7,1334.7C1460.5,1335.2 1464.1,1335.5 1469.2,1335.2C1474.3,1334.9 1479.9,1333.5 1486.1,1333C1492.3,1332.5 1498.4,1331.9 1506.3,1332.3C1514.2,1332.7 1520.3,1333.5 1533.2,1335.2C1546.1,1337.0 1564.3,1340.1 1583.8,1342.8C1603.3,1345.5 1632.4,1348.2 1650,1351.2C1667.6,1354.2 1682.8,1359.4 1689.4,1361 L1692.1,1356 1691.3,1352.3 1690.9,1348.5 1691,1344.7 1691.5,1340.9 1692.5,1337.3 1693.9,1333.8 1695.7,1330.4 1697.9,1327.3 1700.4,1324.5 1703.2,1321.9 1706.3,1319.8 1709.7,1317.9 1713.2,1316.5 1716.8,1315.6 1720.6,1315"/>
<path class="tk" d="M1097.1,1257.4C1100.8,1249.3 1113.1,1221.2 1119,1208.6C1124.9,1196.0 1128.3,1189.8 1132.5,1181.6C1136.7,1173.4 1140.9,1167.0 1144.3,1159.7C1147.7,1152.4 1150.2,1145.4 1152.7,1137.8C1155.2,1130.2 1156.6,1122.3 1159.4,1114.2C1162.2,1106.1 1165.6,1098.3 1169.5,1089C1173.4,1079.7 1178.5,1068.4 1183,1058.6C1187.5,1048.8 1188.8,1048.1 1196.5,1030C1204.2,1011.9 1207.5,1005.0 1228.9,950C1250.4,895.0 1295.5,783.3 1325.2,700C1355.0,616.7 1385.4,520.4 1407.4,450C1429.4,379.6 1448.8,306.5 1457.1,277.8 L1456.6,279.3 1488.4,289.3 1519.9,300.1 1551.1,311.7 1581.9,324.2 1612.5,337.4 1642.6,351.5 1672.4,366.3 1701.8,382 1730.7,398.4 1759.3,415.5 1787.3,433.4 1814.9,452.1 1842,471.4 1868.5,491.5 1894.5,512.3 1920,533.7 1944.8,555.8 1969.1,578.6 1992.8,602 2015.8,626 2038.3,650.6 2060,675.8 2081.1,701.5 2101.5,727.8 2121.2,754.7 2140.1,782 2158.4,809.9 2175.9,838.2 2192.6,866.9 2208.6,896.1 2223.8,925.7 2238.2,955.7 2251.9,986.1 2264.7,1016.8 2276.7,1047.8 2287.9,1079.2 2298.2,1110.8 2307.7,1142.7 2316.4,1174.9 L2315.8,1175C2277.2,1183.0 2160.3,1208.8 2084.3,1223C2008.3,1237.2 1911.3,1251.3 1860,1260C1808.7,1268.7 1816.3,1269.1 1776.7,1275.4C1737.1,1281.8 1657.5,1293.0 1622.5,1298.1C1587.5,1303.1 1590.2,1302.3 1566.9,1305.7C1543.6,1309.1 1506.6,1314.7 1482.7,1318.3C1458.8,1321.9 1437.7,1325.6 1423.7,1327.6C1409.7,1329.6 1408.9,1328.7 1398.5,1330.1C1388.1,1331.5 1372.1,1334.1 1361.4,1336C1350.7,1337.9 1341.4,1340.6 1334.4,1341.6C1327.4,1342.6 1325.5,1342.4 1319.3,1341.9C1313.1,1341.4 1305.3,1339.6 1297.4,1338.6C1289.5,1337.6 1283.3,1335.6 1272.1,1336C1260.9,1336.4 1244.9,1339.6 1230,1341.1C1215.1,1342.6 1198.6,1343.3 1182.6,1345C1166.6,1346.7 1147.5,1349.0 1134,1351.4C1120.5,1353.8 1108.2,1357.5 1101.7,1359.5C1095.2,1361.5 1096.4,1362.9 1095.3,1363.6"/>
<path class="tk" d="M1095.3,1363.6C1096.3,1361.7 1100.4,1355.9 1101.5,1352C1102.6,1348.1 1102.4,1344.0 1102,1340C1101.6,1336.0 1100.7,1331.5 1099,1328C1097.3,1324.5 1094.5,1321.3 1092,1319C1089.5,1316.7 1085.3,1314.8 1084,1314" stroke-linejoin="round"/>
<g shape-rendering="crispEdges">
<path d="M1191.6,339.2 1244.4,345.3 1242.3,359.2 1190.0,352.7Z" fill="#aa0000"/>
<path d="M1241.4,359.2 1293.2,368.0 1290.7,381.9 1239.3,373.2Z" fill="#000a82"/>
<path d="M1136.8,363.0 1187.9,366.8 1186.4,380.7 1135.8,376.9Z" fill="#00108c"/>
<path d="M1135.8,376.9 1186.4,380.7 1184.9,394.6 1134.7,390.8Z" fill="#ffe4c8"/>
<path d="M1134.7,390.8 1184.9,394.6 1183.4,408.5 1133.7,404.7Z" fill="#c4e8ff"/>
<path d="M1133.7,404.7 1183.4,408.5 1181.9,422.4 1132.7,418.6Z" fill="#38b0ff"/>
<path d="M1132.7,418.6 1181.9,422.4 1180.4,436.3 1131.7,432.5Z" fill="#ffe4c8"/>
<path d="M1131.7,432.5 1180.4,436.3 1178.9,450.2 1130.6,446.4Z" fill="#c4e8ff"/>
<path d="M1130.6,446.4 1178.9,450.2 1177.4,464.1 1129.6,460.3Z" fill="#ffe4c8"/>
<path d="M1187.9,366.8 1238.9,373.2 1224.1,456.5 1178.6,449.8Z" fill="#cccccc"/>
<path d="M1237.2,386.6 1286.9,396.2 1279.3,423.2 1231.3,415.2Z" fill="#cccccc"/>
<path d="M1335.0,606.0 1373.8,587.2 1380.0,599.8 1341.2,618.5Z" fill="#cccccc"/>
<path d="M1378.8,600.2 1419.5,583.5 1423.8,596.8 1386.2,613.0Z" fill="#cccccc"/>
<path d="M2214.0,714.0 2249.4,739.2 2240.3,751.3 2205.6,726.8Z" fill="#cccccc"/>
<path d="M995.0,970.8 1015.8,968.2 1017.9,983.3 997.5,985.8Z" fill="#cc2200"/>
<path d="M1015.8,968.2 1036.2,965.8 1038.0,980.8 1017.9,983.3Z" fill="#c81e00"/>
<path d="M997.5,985.8 1017.9,983.3 1020.0,998.5 1001.2,1001.2Z" fill="#c01400"/>
<path d="M1017.9,983.3 1038.0,980.8 1040.0,995.8 1020.0,998.5Z" fill="#b40a00"/>
<path d="M1078.8,979.5 1098.8,980.2 1098.8,997.0 1078.8,994.5Z" fill="#a80000"/>
<path d="M1078.8,994.5 1098.2,997.0 1097.5,1011.5 1079.2,1010.0Z" fill="#a40000"/>
<path d="M1098.2,996.2 1118.0,997.5 1117.0,1012.8 1097.5,1011.5Z" fill="#0078e8"/>
<path d="M1118.0,997.5 1137.0,1001.2 1135.5,1015.8 1117.0,1012.8Z" fill="#9c0000"/>
<path d="M1137.0,1001.2 1156.8,1005.0 1154.2,1020.0 1135.5,1015.8Z" fill="#cccccc"/>
<path d="M1116.5,1054.4 1130.0,1061.7 1114.0,1093.7 1100.1,1086.4Z" fill="#cccccc"/>
<path d="M1004.7,1041.0 1018.2,1047.4 986.1,1122.3 956.7,1112.7 973.3,1073.0 986.8,1078.1Z" fill="#cccccc"/>
<path d="M914.4,1096.7 928.5,1101.8 913.8,1144.0 899.1,1139.2Z" fill="#cccccc"/>
<path d="M942.6,1107.3 956.7,1112.7 942.6,1153.0 928.1,1148.5Z" fill="#cccccc"/>
<path d="M940.0,1175.4 950.3,1168.8 957.0,1178.0 948.0,1185.0Z" fill="#cccccc"/>
<path d="M959.8,1201.8 975.8,1206.9 966.5,1246.5 951.0,1241.4Z" fill="#cccccc"/>
<path d="M1063.0,1132.8 1075.1,1132.5 1074.8,1144.7 1062.7,1144.9Z" fill="#ff8000"/>
<path d="M1056.7,1192.6 1065.9,1192.1 1065.9,1208.2 1058.4,1208.2Z" fill="#ff8000"/>
</g>
<g shape-rendering="crispEdges">
<path d="M1027.3,1320.7 1013.2,1306.8 1016.6,1302.1 1029.6,1316.7Z" fill="#cccccc"/>
<path d="M1013.2,1306.8 1000.2,1293.9 1004.4,1288.5 1016.6,1302.1Z" fill="#cc2400"/>
<path d="M1000.2,1293.9 988.3,1282.1 993.3,1276.0 1004.4,1288.5Z" fill="#cc2400"/>
<path d="M988.3,1282.1 976.9,1270.9 982.7,1264.1 993.3,1276.0Z" fill="#b00000"/>
<path d="M1042.8,1331.5 1029.6,1316.7 1032.4,1313.1 1044.4,1328.4Z" fill="#cc2400"/>
<path d="M1029.6,1316.7 1016.6,1302.1 1020.3,1297.7 1032.4,1313.1Z" fill="#dd4400"/>
<path d="M1016.6,1302.1 1004.4,1288.5 1009.1,1283.4 1020.3,1297.7Z" fill="#b00000"/>
<path d="M1004.4,1288.5 993.3,1276.0 998.7,1270.2 1009.1,1283.4Z" fill="#c01000"/>
<path d="M993.3,1276.0 982.7,1264.1 988.9,1257.7 998.7,1270.2Z" fill="#dd4400"/>
<path d="M982.7,1264.1 972.0,1252.1 979.0,1245.1 988.9,1257.7Z" fill="#dd4400"/>
<path d="M1044.4,1328.4 1032.4,1313.1 1035.4,1309.6 1046.3,1325.5Z" fill="#b00000"/>
<path d="M1032.4,1313.1 1020.3,1297.7 1024.4,1293.6 1035.4,1309.6Z" fill="#cccccc"/>
<path d="M1020.3,1297.7 1009.1,1283.4 1014.1,1278.6 1024.4,1293.6Z" fill="#ffe2c6"/>
<path d="M1009.1,1283.4 998.7,1270.2 1004.7,1264.9 1014.1,1278.6Z" fill="#cc2400"/>
<path d="M998.7,1270.2 988.9,1257.7 995.7,1251.8 1004.7,1264.9Z" fill="#dd4400"/>
<path d="M988.9,1257.7 979.0,1245.1 986.6,1238.6 995.7,1251.8Z" fill="#b00000"/>
<path d="M1046.3,1325.5 1035.4,1309.6 1038.8,1306.5 1048.6,1322.9Z" fill="#b00000"/>
<path d="M1035.4,1309.6 1024.4,1293.6 1028.8,1289.9 1038.8,1306.5Z" fill="#b00000"/>
<path d="M1024.4,1293.6 1014.1,1278.6 1019.5,1274.3 1028.8,1289.9Z" fill="#b00000"/>
<path d="M1014.1,1278.6 1004.7,1264.9 1011.0,1260.0 1019.5,1274.3Z" fill="#b00000"/>
<path d="M1048.6,1322.9 1038.8,1306.5 1042.5,1303.7 1051.2,1320.5Z" fill="#cc2400"/>
<path d="M1038.8,1306.5 1028.8,1289.9 1033.6,1286.5 1042.5,1303.7Z" fill="#b00000"/>
<path d="M1028.8,1289.9 1019.5,1274.3 1025.3,1270.5 1033.6,1286.5Z" fill="#cc2400"/>
<path d="M1019.5,1274.3 1011.0,1260.0 1017.6,1255.7 1025.3,1270.5Z" fill="#b00000"/>
<path d="M1011.0,1260.0 1002.8,1246.5 1010.4,1241.6 1017.6,1255.7Z" fill="#dd4400"/>
<path d="M1051.2,1320.5 1042.5,1303.7 1046.4,1301.2 1054.0,1318.5Z" fill="#b00000"/>
<path d="M1042.5,1303.7 1033.6,1286.5 1038.6,1283.6 1046.4,1301.2Z" fill="#b00000"/>
<path d="M1033.6,1286.5 1025.3,1270.5 1031.3,1267.1 1038.6,1283.6Z" fill="#dd4400"/>
<path d="M1025.3,1270.5 1017.6,1255.7 1024.6,1251.9 1031.3,1267.1Z" fill="#cc2400"/>
<path d="M1017.6,1255.7 1010.4,1241.6 1018.2,1237.4 1024.6,1251.9Z" fill="#cc2400"/>
<path d="M1054.0,1318.5 1046.4,1301.2 1050.5,1299.1 1057.0,1316.7Z" fill="#b00000"/>
<path d="M1046.4,1301.2 1038.6,1283.6 1043.9,1281.1 1050.5,1299.1Z" fill="#b00000"/>
<path d="M1038.6,1283.6 1031.3,1267.1 1037.6,1264.2 1043.9,1281.1Z" fill="#cc2400"/>
<path d="M1031.3,1267.1 1024.6,1251.9 1031.9,1248.6 1037.6,1264.2Z" fill="#dd4400"/>
<path d="M1024.6,1251.9 1018.2,1237.4 1026.4,1233.7 1031.9,1248.6Z" fill="#cccccc"/>
<path d="M1057.0,1316.7 1050.5,1299.1 1054.8,1297.4 1060.2,1315.4Z" fill="#b00000"/>
<path d="M1050.5,1299.1 1043.9,1281.1 1049.3,1279.0 1054.8,1297.4Z" fill="#b00000"/>
<path d="M1043.9,1281.1 1037.6,1264.2 1044.2,1261.8 1049.3,1279.0Z" fill="#b00000"/>
<path d="M1037.6,1264.2 1031.9,1248.6 1039.4,1245.9 1044.2,1261.8Z" fill="#cc2400"/>
<path d="M1031.9,1248.6 1026.4,1233.7 1034.9,1230.7 1039.4,1245.9Z" fill="#b00000"/>
<path d="M1026.4,1233.7 1020.9,1218.7 1030.3,1215.4 1034.9,1230.7Z" fill="#dd4400"/>
<path d="M1060.2,1315.4 1054.8,1297.4 1059.3,1296.1 1063.5,1314.3Z" fill="#cc2400"/>
<path d="M1054.8,1297.4 1049.3,1279.0 1054.9,1277.4 1059.3,1296.1Z" fill="#b00000"/>
<path d="M1049.3,1279.0 1044.2,1261.8 1050.8,1259.9 1054.9,1277.4Z" fill="#b00000"/>
<path d="M1044.2,1261.8 1039.4,1245.9 1047.1,1243.7 1050.8,1259.9Z" fill="#cc2400"/>
<path d="M1039.4,1245.9 1034.9,1230.7 1043.5,1228.4 1047.1,1243.7Z" fill="#ff7e00"/>
<path d="M1034.9,1230.7 1030.3,1215.4 1039.9,1212.8 1043.5,1228.4Z" fill="#ff7e00"/>
<path d="M1063.5,1314.3 1059.3,1296.1 1063.9,1295.3 1067.0,1313.7Z" fill="#ffa030"/>
<path d="M1059.3,1296.1 1054.9,1277.4 1060.7,1276.3 1063.9,1295.3Z" fill="#ee5800"/>
<path d="M1054.9,1277.4 1050.8,1259.9 1057.7,1258.6 1060.7,1276.3Z" fill="#ee5800"/>
<path d="M1050.8,1259.9 1047.1,1243.7 1054.9,1242.2 1057.7,1258.6Z" fill="#ee5800"/>
<path d="M1067.0,1313.7 1063.9,1295.3 1068.5,1294.9 1070.4,1313.5Z" fill="#b00000"/>
<path d="M1063.9,1295.3 1060.7,1276.3 1066.5,1275.7 1068.5,1294.9Z" fill="#b00000"/>
<path d="M1057.7,1258.6 1054.9,1242.2 1062.8,1241.3 1064.6,1257.8Z" fill="#cc2400"/>
<path d="M1054.9,1242.2 1052.3,1226.6 1061.2,1225.6 1062.8,1241.3Z" fill="#cc2400"/>
<path d="M1052.3,1226.6 1049.6,1210.9 1059.5,1209.7 1061.2,1225.6Z" fill="#cc2400"/>
<path d="M1049.6,1210.9 1047.0,1195.1 1057.8,1193.7 1059.5,1209.7Z" fill="#c01000"/>
<path d="M1070.4,1313.5 1068.5,1294.9 1073.1,1294.9 1073.9,1313.7Z" fill="#cc2400"/>
<path d="M1068.5,1294.9 1066.5,1275.7 1072.3,1275.6 1073.1,1294.9Z" fill="#dd4400"/>
<path d="M1066.5,1275.7 1064.6,1257.8 1071.5,1257.6 1072.3,1275.6Z" fill="#dd4400"/>
<path d="M1064.6,1257.8 1062.8,1241.3 1070.8,1241.0 1071.5,1257.6Z" fill="#ffe2c6"/>
<path d="M1062.8,1241.3 1061.2,1225.6 1070.1,1225.2 1070.8,1241.0Z" fill="#ffe2c6"/>
<path d="M1059.5,1209.7 1057.8,1193.7 1068.8,1193.2 1069.4,1209.2Z" fill="#ff7e00"/>
<path d="M1073.9,1313.7 1073.1,1294.9 1077.7,1295.3 1077.3,1314.2Z" fill="#cccccc"/>
<path d="M1073.1,1294.9 1072.3,1275.6 1078.1,1276.0 1077.7,1295.3Z" fill="#dd4400"/>
<path d="M1072.3,1275.6 1071.5,1257.6 1078.4,1257.9 1078.1,1276.0Z" fill="#dd4400"/>
<path d="M1071.5,1257.6 1070.8,1241.0 1078.8,1241.3 1078.4,1257.9Z" fill="#cccccc"/>
<path d="M1077.3,1314.2 1077.7,1295.3 1082.3,1296.2 1080.7,1315.2Z" fill="#b00000"/>
<path d="M1077.7,1295.3 1078.1,1276.0 1083.8,1276.9 1082.3,1296.2Z" fill="#b00000"/>
<path d="M1078.1,1276.0 1078.4,1257.9 1085.3,1258.8 1083.8,1276.9Z" fill="#cccccc"/>
<path d="M1078.4,1257.9 1078.8,1241.3 1086.7,1242.2 1085.3,1258.8Z" fill="#b00000"/>
<path d="M1080.7,1315.2 1082.3,1296.2 1086.7,1297.5 1083.9,1316.5Z" fill="#cc2400"/>
<path d="M1082.3,1296.2 1083.8,1276.9 1089.5,1278.2 1086.7,1297.5Z" fill="#cccccc"/>
<path d="M1085.3,1258.8 1086.7,1242.2 1094.5,1243.8 1092.1,1260.3Z" fill="#c4e8ff"/>
<path d="M1083.9,1316.5 1086.7,1297.5 1091.0,1299.1 1087.0,1318.2Z" fill="#ff7e00"/>
<path d="M1086.7,1297.5 1089.5,1278.2 1095.0,1280.0 1091.0,1299.1Z" fill="#ff7e00"/>
<path d="M1089.5,1278.2 1092.1,1260.3 1098.7,1262.3 1095.0,1280.0Z" fill="#cccccc"/>
<path d="M1092.1,1260.3 1094.5,1243.8 1102.2,1245.9 1098.7,1262.3Z" fill="#cccccc"/>
<path d="M1094.5,1243.8 1096.8,1228.1 1105.4,1230.4 1102.2,1245.9Z" fill="#ee5800"/>
</g>
<path class="mg" d="M1077.5,1315C1080.5,1309.2 1085.7,1298.9 1095.4,1280C1105.1,1261.1 1125.4,1221.3 1135.8,1201.8C1146.2,1182.3 1152.9,1172.4 1157.7,1163.1C1162.5,1153.8 1162.2,1152.7 1164.5,1146.2C1166.8,1139.7 1168.7,1131.6 1171.2,1124.3C1173.7,1117.0 1174.8,1112.5 1179.6,1102.4C1184.4,1092.3 1193.6,1075.8 1199.9,1063.7C1206.2,1051.6 1208.4,1049.0 1217.6,1030C1226.8,1011.0 1230.4,1005.0 1255,950C1279.6,895.0 1330.9,783.3 1365.3,700C1399.7,616.7 1436.4,517.3 1461.3,450C1486.2,382.7 1505.6,322.0 1514.4,296.4 L1570.8,319.6C1561.8,341.3 1544.1,386.6 1516.9,450C1489.7,513.4 1446.6,616.7 1407.4,700C1368.2,783.3 1309.8,895.0 1281.9,950C1254.1,1005.0 1250.6,1010.5 1240.3,1030C1230.0,1049.5 1228.0,1053.1 1220.1,1067.1C1212.2,1081.1 1199.0,1103.2 1193.1,1114.2C1187.2,1125.2 1187.5,1126.0 1184.7,1132.8C1181.9,1139.5 1179.1,1148.5 1176.3,1154.7C1173.5,1160.9 1173.2,1160.5 1167.9,1169.8C1162.6,1179.0 1155.2,1191.8 1144.3,1210.2C1133.3,1228.6 1112.8,1262.4 1102.2,1280C1091.6,1297.6 1084.3,1309.9 1080.7,1315.9"/>
<path class="mg" d="M1715.3,1317.5C1706.5,1302.8 1675.0,1251.2 1662.5,1229C1650.0,1206.8 1646.6,1195.7 1640.4,1184.4C1634.2,1173.1 1629.3,1168.3 1625.3,1161.3C1621.3,1154.3 1619.0,1148.7 1616.3,1142.2C1613.6,1135.7 1611.6,1128.2 1609.3,1122.2C1607.0,1116.2 1606.2,1113.1 1602.2,1106.1C1598.2,1099.1 1600.8,1107.7 1585.2,1080C1569.6,1052.3 1542.7,1003.3 1508.7,940C1474.7,876.7 1423.6,781.7 1381.3,700C1339.0,618.3 1285.9,512.4 1255,450C1224.1,387.6 1205.8,346.2 1196,325.5 L1249.9,300.2C1260.7,325.2 1285.9,383.4 1314.8,450C1343.7,516.6 1386.3,618.3 1423.4,700C1460.5,781.7 1506.8,876.7 1537.3,940C1567.8,1003.3 1592.6,1052.8 1606.3,1080C1620.0,1107.2 1616.3,1096.7 1619.3,1103.1C1622.3,1109.5 1622.4,1112.0 1624.3,1118.2C1626.2,1124.4 1628.1,1133.4 1630.4,1140.2C1632.8,1147.0 1635.1,1152.3 1638.4,1159.3C1641.7,1166.3 1644.9,1170.8 1650.4,1182.4C1655.9,1194.0 1659.6,1206.9 1671.5,1229C1683.4,1251.1 1713.3,1300.7 1721.7,1315"/>
<g shape-rendering="crispEdges">
<path d="M1651.7,976.7 1673.0,973.1 1674.6,989.0 1654.2,992.4Z" fill="#aa0000"/>
<path d="M1654.2,992.4 1674.6,989.0 1676.2,1004.9 1656.7,1008.1Z" fill="#a80000"/>
<path d="M1656.7,1008.1 1676.2,1004.9 1677.8,1020.9 1659.1,1023.9Z" fill="#a60000"/>
<path d="M1659.1,1023.9 1677.8,1020.9 1679.4,1036.8 1661.6,1039.6Z" fill="#a40000"/>
<path d="M1661.6,1039.6 1679.4,1036.8 1681.0,1052.7 1664.1,1055.3Z" fill="#980000"/>
<path d="M1664.1,1055.3 1681.0,1052.7 1683.8,1083.2 1670.0,1085.8Z" fill="#cccccc"/>
<path d="M1670.0,1086.5 1683.8,1084.0 1686.2,1096.5 1672.5,1099.5Z" fill="#a40000"/>
<path d="M1674.2,989.1 1694.9,987.0 1698.7,1066.2 1682.7,1068.3Z" fill="#cccccc"/>
<path d="M1683.8,1068.2 1698.8,1066.5 1699.5,1082.0 1685.0,1084.0Z" fill="#000e90"/>
<path d="M1694.9,987.0 1714.9,985.2 1715.1,1000.9 1695.3,1002.6Z" fill="#cccccc"/>
<path d="M1697.4,1034.2 1715.3,1032.9 1715.3,1048.9 1698.1,1050.2Z" fill="#980000"/>
<path d="M1699.1,1066.2 1714.7,1064.9 1715.0,1080.8 1699.5,1082.0Z" fill="#cccccc"/>
<path d="M1771.5,1019.2 1789.6,1022.0 1777.0,1086.5 1762.0,1083.2Z" fill="#cccccc"/>
<path d="M1749.2,1050.0 1765.5,1052.0 1763.8,1068.2 1747.5,1065.8Z" fill="#cccccc"/>
<path d="M1730.3,1173.4 1750.3,1174.9 1747.8,1190.9 1729.8,1189.4Z" fill="#c41400"/>
<path d="M1720.7,1189.4 1729.8,1188.9 1729.3,1205.5 1720.7,1206.0Z" fill="#f86000"/>
<path d="M1400.4,1071.9 1408.2,1063.3 1416.2,1054.9 1427.3,1065.7 1419.6,1073.8 1412.0,1082.1Z" fill="#a80000"/>
<path d="M1412.0,1082.1 1419.6,1073.8 1427.3,1065.7 1438.4,1076.6 1430.9,1084.4 1423.7,1092.4Z" fill="#b00000"/>
<path d="M1394.1,1033.3 1402.8,1024.5 1411.8,1016.0 1422.3,1027.4 1413.6,1035.6 1405.1,1044.1Z" fill="#b80000"/>
<path d="M1405.1,1044.1 1413.6,1035.6 1422.3,1027.4 1432.8,1038.8 1424.4,1046.7 1416.2,1054.9Z" fill="#b00000"/>
<path d="M1416.2,1054.9 1424.4,1046.7 1432.8,1038.8 1443.3,1050.1 1435.2,1057.8 1427.3,1065.7Z" fill="#a00000"/>
<path d="M1427.3,1065.7 1435.2,1057.8 1443.3,1050.1 1453.8,1061.5 1446.0,1068.9 1438.4,1076.6Z" fill="#b40000"/>
<path d="M1438.4,1076.6 1446.0,1068.9 1453.8,1061.5 1464.3,1072.9 1456.8,1080.0 1449.4,1087.4Z" fill="#a80000"/>
<path d="M1460.5,1098.2 1467.6,1091.1 1474.9,1084.3 1485.4,1095.6 1478.4,1102.2 1471.6,1109.0Z" fill="#e04800"/>
<path d="M1471.6,1109.0 1478.4,1102.2 1485.4,1095.6 1495.9,1107.0 1489.2,1113.3 1482.7,1119.9Z" fill="#e85000"/>
<path d="M1493.7,1130.7 1500.0,1124.5 1506.4,1118.4 1516.9,1129.7 1510.8,1135.6 1504.8,1141.5Z" fill="#d83800"/>
<path d="M1401.3,1004.7 1410.8,996.1 1420.5,987.8 1430.4,999.7 1421.0,1007.7 1411.8,1016.0Z" fill="#cc2a00"/>
<path d="M1411.8,1016.0 1421.0,1007.7 1430.4,999.7 1440.3,1011.6 1431.2,1019.4 1422.3,1027.4Z" fill="#dc4000"/>
<path d="M1422.3,1027.4 1431.2,1019.4 1440.3,1011.6 1450.2,1023.5 1441.4,1031.0 1432.8,1038.8Z" fill="#d03000"/>
<path d="M1443.3,1050.1 1451.6,1042.6 1460.1,1035.4 1470.1,1047.3 1461.9,1054.3 1453.8,1061.5Z" fill="#c42000"/>
<path d="M1453.8,1061.5 1461.9,1054.3 1470.1,1047.3 1480.0,1059.2 1472.1,1065.9 1464.3,1072.9Z" fill="#dc4000"/>
<path d="M1474.9,1084.3 1482.3,1077.6 1489.9,1071.0 1499.8,1082.9 1492.5,1089.2 1485.4,1095.6Z" fill="#ee5500"/>
<path d="M1485.4,1095.6 1492.5,1089.2 1499.8,1082.9 1509.7,1094.8 1502.7,1100.8 1495.9,1107.0Z" fill="#ee5500"/>
<path d="M1495.9,1107.0 1502.7,1100.8 1509.7,1094.8 1519.7,1106.7 1513.0,1112.5 1506.4,1118.4Z" fill="#e04c00"/>
<path d="M1506.4,1118.4 1513.0,1112.5 1519.7,1106.7 1529.6,1118.6 1523.2,1124.1 1516.9,1129.7Z" fill="#ee5800"/>
<path d="M1516.9,1129.7 1523.2,1124.1 1529.6,1118.6 1539.5,1130.5 1533.4,1135.7 1527.4,1141.1Z" fill="#d43000"/>
<path d="M1420.5,987.8 1430.4,979.8 1440.5,972.0 1449.8,984.3 1440.0,991.9 1430.4,999.7Z" fill="#c01000"/>
<path d="M1430.4,999.7 1440.0,991.9 1449.8,984.3 1459.1,996.7 1449.6,1004.0 1440.3,1011.6Z" fill="#dd4400"/>
<path d="M1440.3,1011.6 1449.6,1004.0 1459.1,996.7 1468.4,1009.1 1459.2,1016.2 1450.2,1023.5Z" fill="#e04a00"/>
<path d="M1450.2,1023.5 1459.2,1016.2 1468.4,1009.1 1477.7,1021.5 1468.8,1028.3 1460.1,1035.4Z" fill="#e04800"/>
<path d="M1460.1,1035.4 1468.8,1028.3 1477.7,1021.5 1487.0,1033.9 1478.4,1040.4 1470.1,1047.3Z" fill="#c82000"/>
<path d="M1470.1,1047.3 1478.4,1040.4 1487.0,1033.9 1496.3,1046.2 1488.1,1052.6 1480.0,1059.2Z" fill="#d03000"/>
<path d="M1480.0,1059.2 1488.1,1052.6 1496.3,1046.2 1505.6,1058.6 1497.7,1064.7 1489.9,1071.0Z" fill="#cc2c00"/>
<path d="M1519.7,1106.7 1526.5,1101.1 1533.5,1095.7 1542.8,1108.1 1536.1,1113.3 1529.6,1118.6Z" fill="#ec5400"/>
<path d="M1449.8,984.3 1459.8,977.0 1469.9,970.0 1478.6,982.8 1468.8,989.6 1459.1,996.7Z" fill="#a00000"/>
<path d="M1459.1,996.7 1468.8,989.6 1478.6,982.8 1487.3,995.6 1477.7,1002.3 1468.4,1009.1Z" fill="#a80000"/>
<path d="M1468.4,1009.1 1477.7,1002.3 1487.3,995.6 1495.9,1008.5 1486.7,1014.9 1477.7,1021.5Z" fill="#b80800"/>
<path d="M1477.7,1021.5 1486.7,1014.9 1495.9,1008.5 1504.6,1021.3 1495.7,1027.5 1487.0,1033.9Z" fill="#c82000"/>
<path d="M1487.0,1033.9 1495.7,1027.5 1504.6,1021.3 1513.2,1034.2 1504.7,1040.1 1496.3,1046.2Z" fill="#d03000"/>
<path d="M1496.3,1046.2 1504.7,1040.1 1513.2,1034.2 1521.9,1047.0 1513.7,1052.7 1505.6,1058.6Z" fill="#b80800"/>
<path d="M1524.2,1083.4 1531.7,1077.9 1539.2,1072.7 1547.9,1085.5 1540.6,1090.5 1533.5,1095.7Z" fill="#c41c00"/>
<path d="M1469.9,970.0 1480.3,963.2 1490.8,956.7 1498.8,969.9 1488.6,976.2 1478.6,982.8Z" fill="#cccccc"/>
<path d="M1478.6,982.8 1488.6,976.2 1498.8,969.9 1506.8,983.2 1496.9,989.3 1487.3,995.6Z" fill="#cccccc"/>
<path d="M1487.3,995.6 1496.9,989.3 1506.8,983.2 1514.8,996.4 1505.3,1002.3 1495.9,1008.5Z" fill="#cccccc"/>
<path d="M1495.9,1008.5 1505.3,1002.3 1514.8,996.4 1522.8,1009.7 1513.6,1015.4 1504.6,1021.3Z" fill="#cccccc"/>
<path d="M1504.6,1021.3 1513.6,1015.4 1522.8,1009.7 1530.8,1023.0 1521.9,1028.4 1513.2,1034.2Z" fill="#a00000"/>
<path d="M1513.2,1034.2 1521.9,1028.4 1530.8,1023.0 1538.8,1036.2 1530.3,1041.5 1521.9,1047.0Z" fill="#cccccc"/>
<path d="M1521.9,1047.0 1530.3,1041.5 1538.8,1036.2 1546.8,1049.5 1538.6,1054.5 1530.6,1059.8Z" fill="#b40000"/>
<path d="M1530.6,1059.8 1538.6,1054.5 1546.8,1049.5 1554.8,1062.7 1546.9,1067.6 1539.2,1072.7Z" fill="#a40000"/>
<path d="M1539.2,1072.7 1546.9,1067.6 1554.8,1062.7 1562.8,1076.0 1555.3,1080.6 1547.9,1085.5Z" fill="#b81000"/>
<path d="M1547.9,1085.5 1555.3,1080.6 1562.8,1076.0 1570.8,1089.2 1563.6,1093.7 1556.6,1098.3Z" fill="#b40400"/>
<path d="M1556.6,1098.3 1563.6,1093.7 1570.8,1089.2 1578.8,1102.5 1572.0,1106.8 1565.2,1111.2Z" fill="#c01400"/>
<path d="M1490.8,956.7 1501.5,950.4 1512.3,944.4 1519.6,958.1 1509.1,963.9 1498.8,969.9Z" fill="#cccccc"/>
<path d="M1498.8,969.9 1509.1,963.9 1519.6,958.1 1526.9,971.7 1516.8,977.3 1506.8,983.2Z" fill="#cccccc"/>
<path d="M1506.8,983.2 1516.8,977.3 1526.9,971.7 1534.2,985.4 1524.4,990.8 1514.8,996.4Z" fill="#cccccc"/>
<path d="M1514.8,996.4 1524.4,990.8 1534.2,985.4 1541.6,999.0 1532.1,1004.2 1522.8,1009.7Z" fill="#cccccc"/>
<path d="M1522.8,1009.7 1532.1,1004.2 1541.6,999.0 1548.9,1012.7 1539.8,1017.7 1530.8,1023.0Z" fill="#cccccc"/>
<path d="M1530.8,1023.0 1539.8,1017.7 1548.9,1012.7 1556.2,1026.3 1547.4,1031.1 1538.8,1036.2Z" fill="#cccccc"/>
<path d="M1538.8,1036.2 1547.4,1031.1 1556.2,1026.3 1563.5,1040.0 1555.1,1044.6 1546.8,1049.5Z" fill="#cccccc"/>
<path d="M1546.8,1049.5 1555.1,1044.6 1563.5,1040.0 1570.8,1053.6 1562.7,1058.1 1554.8,1062.7Z" fill="#a00000"/>
<path d="M1554.8,1062.7 1562.7,1058.1 1570.8,1053.6 1578.1,1067.2 1570.4,1071.5 1562.8,1076.0Z" fill="#a00000"/>
<path d="M1562.8,1076.0 1570.4,1071.5 1578.1,1067.2 1585.5,1080.9 1578.1,1085.0 1570.8,1089.2Z" fill="#a00000"/>
<path d="M1570.8,1089.2 1578.1,1085.0 1585.5,1080.9 1592.8,1094.5 1585.7,1098.4 1578.8,1102.5Z" fill="#9c0000"/>
<path d="M1578.8,1102.5 1585.7,1098.4 1592.8,1094.5 1600.1,1108.2 1593.4,1111.9 1586.8,1115.8Z" fill="#a00000"/>
<path d="M1586.8,1115.8 1593.4,1111.9 1600.1,1108.2 1607.4,1121.8 1601.1,1125.4 1594.8,1129.0Z" fill="#b00000"/>
<path d="M1519.6,958.1 1530.2,952.5 1541.0,947.3 1547.6,961.3 1537.2,966.4 1526.9,971.7Z" fill="#a80000"/>
<path d="M1526.9,971.7 1537.2,966.4 1547.6,961.3 1554.2,975.3 1544.2,980.2 1534.2,985.4Z" fill="#a00000"/>
<path d="M1534.2,985.4 1544.2,980.2 1554.2,975.3 1560.8,989.3 1551.1,994.0 1541.6,999.0Z" fill="#a00000"/>
<path d="M1541.6,999.0 1551.1,994.0 1560.8,989.3 1567.5,1003.3 1558.1,1007.9 1548.9,1012.7Z" fill="#a00000"/>
<path d="M1548.9,1012.7 1558.1,1007.9 1567.5,1003.3 1574.1,1017.3 1565.1,1021.7 1556.2,1026.3Z" fill="#a00000"/>
<path d="M1556.2,1026.3 1565.1,1021.7 1574.1,1017.3 1580.7,1031.3 1572.0,1035.5 1563.5,1040.0Z" fill="#cccccc"/>
<path d="M1563.5,1040.0 1572.0,1035.5 1580.7,1031.3 1587.3,1045.3 1579.0,1049.3 1570.8,1053.6Z" fill="#a00000"/>
<path d="M1570.8,1053.6 1579.0,1049.3 1587.3,1045.3 1593.9,1059.3 1586.0,1063.2 1578.1,1067.2Z" fill="#9c0000"/>
<path d="M1578.1,1067.2 1586.0,1063.2 1593.9,1059.3 1600.5,1073.3 1592.9,1077.0 1585.5,1080.9Z" fill="#9c0000"/>
<path d="M1585.5,1080.9 1592.9,1077.0 1600.5,1073.3 1607.1,1087.3 1599.9,1090.8 1592.8,1094.5Z" fill="#9c0000"/>
<path d="M1592.8,1094.5 1599.9,1090.8 1607.1,1087.3 1613.8,1101.3 1606.9,1104.7 1600.1,1108.2Z" fill="#9c0000"/>
<path d="M1600.1,1108.2 1606.9,1104.7 1613.8,1101.3 1620.4,1115.3 1613.8,1118.5 1607.4,1121.8Z" fill="#a00000"/>
<path d="M1554.2,975.3 1564.4,970.6 1574.7,966.2 1580.6,980.6 1570.7,984.8 1560.8,989.3Z" fill="#cc2a00"/>
<path d="M1560.8,989.3 1570.7,984.8 1580.6,980.6 1586.5,994.9 1576.9,999.0 1567.5,1003.3Z" fill="#c42000"/>
<path d="M1567.5,1003.3 1576.9,999.0 1586.5,994.9 1592.4,1009.2 1583.2,1013.1 1574.1,1017.3Z" fill="#b80c00"/>
<path d="M1574.1,1017.3 1583.2,1013.1 1592.4,1009.2 1598.3,1023.5 1589.4,1027.3 1580.7,1031.3Z" fill="#b40000"/>
<path d="M1580.7,1031.3 1589.4,1027.3 1598.3,1023.5 1604.2,1037.8 1595.7,1041.5 1587.3,1045.3Z" fill="#b00000"/>
<path d="M1587.3,1045.3 1595.7,1041.5 1604.2,1037.8 1610.1,1052.2 1602.0,1055.6 1593.9,1059.3Z" fill="#b40000"/>
<path d="M1593.9,1059.3 1602.0,1055.6 1610.1,1052.2 1616.0,1066.5 1608.2,1069.8 1600.5,1073.3Z" fill="#b00000"/>
<path d="M1600.5,1073.3 1608.2,1069.8 1616.0,1066.5 1621.9,1080.8 1614.5,1084.0 1607.1,1087.3Z" fill="#b00000"/>
<path d="M1607.1,1087.3 1614.5,1084.0 1621.9,1080.8 1627.8,1095.1 1620.7,1098.1 1613.8,1101.3Z" fill="#ac0000"/>
<path d="M1613.8,1101.3 1620.7,1098.1 1627.8,1095.1 1633.7,1109.4 1627.0,1112.3 1620.4,1115.3Z" fill="#a80000"/>
<path d="M1620.4,1115.3 1627.0,1112.3 1633.7,1109.4 1639.6,1123.8 1633.2,1126.5 1627.0,1129.3Z" fill="#cccccc"/>
</g>
<g shape-rendering="crispEdges">
<path d="M1692.2,1351.8 1672.5,1350.9 1672.4,1347.6 1692.0,1349.4Z" fill="#0078e8"/>
<path d="M1692.0,1349.4 1672.4,1347.6 1672.5,1344.2 1691.9,1347.0Z" fill="#dc4000"/>
<path d="M1672.4,1347.6 1651.4,1345.6 1651.7,1341.2 1672.5,1344.2Z" fill="#ffa030"/>
<path d="M1672.5,1344.2 1651.7,1341.2 1652.2,1336.8 1672.8,1340.9Z" fill="#a00000"/>
<path d="M1651.7,1341.2 1631.8,1338.3 1632.5,1333.0 1652.2,1336.8Z" fill="#a00000"/>
<path d="M1692.0,1344.6 1672.8,1340.9 1673.4,1337.5 1692.3,1342.2Z" fill="#ff7e00"/>
<path d="M1672.8,1340.9 1652.2,1336.8 1653.0,1332.5 1673.4,1337.5Z" fill="#dc4000"/>
<path d="M1652.2,1336.8 1632.5,1333.0 1633.5,1327.7 1653.0,1332.5Z" fill="#ff7e00"/>
<path d="M1692.3,1342.2 1673.4,1337.5 1674.1,1334.3 1692.8,1339.9Z" fill="#ff7e00"/>
<path d="M1673.4,1337.5 1653.0,1332.5 1654.0,1328.2 1674.1,1334.3Z" fill="#ffa030"/>
<path d="M1653.0,1332.5 1633.5,1327.7 1634.8,1322.5 1654.0,1328.2Z" fill="#dc4000"/>
<path d="M1692.8,1339.9 1674.1,1334.3 1675.1,1331.1 1693.5,1337.6Z" fill="#dc4000"/>
<path d="M1674.1,1334.3 1654.0,1328.2 1655.3,1324.0 1675.1,1331.1Z" fill="#ee5800"/>
<path d="M1693.5,1337.6 1675.1,1331.1 1676.3,1327.9 1694.3,1335.3Z" fill="#c81e00"/>
<path d="M1675.1,1331.1 1655.3,1324.0 1656.8,1319.9 1676.3,1327.9Z" fill="#dc4000"/>
<path d="M1655.3,1324.0 1636.4,1317.4 1638.4,1312.3 1656.8,1319.9Z" fill="#dc4000"/>
<path d="M1694.3,1335.3 1676.3,1327.9 1677.7,1324.9 1695.3,1333.2Z" fill="#a00000"/>
<path d="M1676.3,1327.9 1656.8,1319.9 1658.6,1315.9 1677.7,1324.9Z" fill="#a00000"/>
<path d="M1656.8,1319.9 1638.4,1312.3 1640.5,1307.4 1658.6,1315.9Z" fill="#dc4000"/>
<path d="M1695.3,1333.2 1677.7,1324.9 1679.2,1321.9 1696.5,1331.1Z" fill="#ff7e00"/>
<path d="M1677.7,1324.9 1658.6,1315.9 1660.7,1312.0 1679.2,1321.9Z" fill="#a00000"/>
<path d="M1658.6,1315.9 1640.5,1307.4 1643.0,1302.6 1660.7,1312.0Z" fill="#ff7e00"/>
<path d="M1696.5,1331.1 1679.2,1321.9 1681.0,1319.0 1697.8,1329.1Z" fill="#a00000"/>
<path d="M1679.2,1321.9 1660.7,1312.0 1663.0,1308.3 1681.0,1319.0Z" fill="#a00000"/>
<path d="M1660.7,1312.0 1643.0,1302.6 1645.8,1298.0 1663.0,1308.3Z" fill="#dc4000"/>
<path d="M1697.8,1329.1 1681.0,1319.0 1683.0,1316.3 1699.3,1327.2Z" fill="#ff7e00"/>
<path d="M1681.0,1319.0 1663.0,1308.3 1665.5,1304.6 1683.0,1316.3Z" fill="#a00000"/>
<path d="M1663.0,1308.3 1645.8,1298.0 1648.8,1293.5 1665.5,1304.6Z" fill="#c81e00"/>
<path d="M1699.3,1327.2 1683.0,1316.3 1685.1,1313.7 1700.9,1325.4Z" fill="#c81e00"/>
<path d="M1683.0,1316.3 1665.5,1304.6 1668.2,1301.2 1685.1,1313.7Z" fill="#dc4000"/>
<path d="M1665.5,1304.6 1648.8,1293.5 1652.1,1289.3 1668.2,1301.2Z" fill="#a00000"/>
<path d="M1700.9,1325.4 1685.1,1313.7 1687.4,1311.3 1702.6,1323.7Z" fill="#a00000"/>
<path d="M1685.1,1313.7 1668.2,1301.2 1671.1,1297.9 1687.4,1311.3Z" fill="#a00000"/>
<path d="M1668.2,1301.2 1652.1,1289.3 1655.6,1285.2 1671.1,1297.9Z" fill="#a00000"/>
<path d="M1702.6,1323.7 1687.4,1311.3 1689.8,1309.0 1704.5,1322.2Z" fill="#a00000"/>
<path d="M1687.4,1311.3 1671.1,1297.9 1674.2,1294.8 1689.8,1309.0Z" fill="#c81e00"/>
<path d="M1671.1,1297.9 1655.6,1285.2 1659.4,1281.4 1674.2,1294.8Z" fill="#a00000"/>
<path d="M1704.5,1322.2 1689.8,1309.0 1692.4,1306.9 1706.4,1320.9Z" fill="#a00000"/>
<path d="M1689.8,1309.0 1674.2,1294.8 1677.5,1291.9 1692.4,1306.9Z" fill="#a00000"/>
<path d="M1674.2,1294.8 1659.4,1281.4 1663.3,1277.7 1677.5,1291.9Z" fill="#c81e00"/>
<path d="M1706.4,1320.9 1692.4,1306.9 1695.2,1304.9 1708.5,1319.6Z" fill="#c81e00"/>
<path d="M1692.4,1306.9 1677.5,1291.9 1681.0,1289.2 1695.2,1304.9Z" fill="#a00000"/>
<path d="M1677.5,1291.9 1663.3,1277.7 1667.5,1274.3 1681.0,1289.2Z" fill="#a00000"/>
<path d="M1708.5,1319.6 1695.2,1304.9 1698.0,1303.2 1710.6,1318.6Z" fill="#a00000"/>
<path d="M1695.2,1304.9 1681.0,1289.2 1684.6,1286.8 1698.0,1303.2Z" fill="#a00000"/>
<path d="M1710.6,1318.6 1698.0,1303.2 1701.0,1301.6 1712.9,1317.7Z" fill="#c81e00"/>
<path d="M1698.0,1303.2 1684.6,1286.8 1688.4,1284.5 1701.0,1301.6Z" fill="#a00000"/>
<path d="M1712.9,1317.7 1701.0,1301.6 1704.0,1300.2 1715.2,1317.0Z" fill="#a00000"/>
<path d="M1701.0,1301.6 1688.4,1284.5 1692.2,1282.5 1704.0,1300.2Z" fill="#c81e00"/>
<path d="M1715.2,1317.0 1704.0,1300.2 1707.1,1299.1 1717.5,1316.5Z" fill="#a00000"/>
<path d="M1704.0,1300.2 1692.2,1282.5 1696.2,1280.7 1707.1,1299.1Z" fill="#a00000"/>
<path d="M1717.5,1316.5 1707.1,1299.1 1710.3,1298.1 1719.9,1316.1Z" fill="#c81e00"/>
<path d="M1707.1,1299.1 1696.2,1280.7 1700.3,1279.2 1710.3,1298.1Z" fill="#a00000"/>
<path d="M1719.9,1316.1 1710.3,1298.1 1713.6,1297.4 1722.3,1315.9Z" fill="#a00000"/>
<path d="M1614.8,1257.1 1619.2,1250.9 1630.4,1261.0 1626.0,1268.3Z" fill="#f87000"/>
<path d="M1626.0,1268.3 1630.4,1261.0 1644.4,1273.3 1639.9,1278.9Z" fill="#ff7800"/>
<path d="M1582.6,1243.4 1589.0,1235.8 1601.1,1245.9 1595.5,1252.9Z" fill="#cc2400"/>
<path d="M1595.5,1252.9 1601.1,1245.9 1614.8,1257.1 1609.2,1263.8Z" fill="#f86800"/>
<path d="M1609.2,1263.8 1614.8,1257.1 1626.0,1268.3 1622.6,1273.3Z" fill="#f07000"/>
<path d="M1577.0,1251.5 1582.6,1243.4 1595.5,1252.9 1591.3,1260.5Z" fill="#f86800"/>
<path d="M1604.7,1269.4 1609.2,1263.8 1622.6,1273.3 1618.7,1279.5Z" fill="#dd3c00"/>
<path d="M1618.7,1279.5 1622.6,1273.3 1635.5,1284.5 1632.7,1289.6Z" fill="#dd3c00"/>
<path d="M1632.7,1289.6 1635.5,1284.5 1649.5,1294.0 1647.2,1298.5Z" fill="#f06000"/>
<path d="M1586.2,1268.3 1590.7,1261.0 1604.7,1269.4 1600.8,1276.1Z" fill="#f86c00"/>
<path d="M1600.8,1276.1 1604.7,1269.4 1618.7,1279.5 1615.3,1285.1Z" fill="#e04800"/>
<path d="M1629.3,1294.6 1632.7,1289.6 1647.2,1298.5 1645.0,1303.5Z" fill="#dd3c00"/>
<path d="M1581.2,1276.1 1585.7,1268.9 1600.8,1276.7 1596.9,1283.4Z" fill="#ff8000"/>
<path d="M1596.9,1283.4 1600.8,1276.7 1614.2,1285.6 1611.4,1292.4Z" fill="#ff9020"/>
<path d="M1611.4,1292.4 1614.2,1285.6 1628.8,1294.6 1625.4,1300.2Z" fill="#cccccc"/>
<path d="M1625.4,1300.2 1628.8,1294.6 1643.9,1303.5 1641.1,1308.6Z" fill="#f86c00"/>
<path d="M1623.2,1306.3 1626.0,1300.2 1641.6,1308.6 1639.9,1311.9 1633.2,1311.9Z" fill="#ff7800"/>
<path d="M1657.3,1285.6 1664.6,1277.8 1676.3,1291.8 1690.9,1306.3 1687.5,1311.9 1661.8,1311.9 1665.1,1304.7Z" fill="#b80800"/>
<path d="M1636.6,1257.1 1642.2,1252.1 1653.4,1264.9 1648.3,1269.1Z" fill="#000e98"/>
<path d="M1644.7,1273.3 1653.4,1264.9 1664.6,1277.8 1657.3,1285.6Z" fill="#dd4400"/>
<path d="M1664.0,1257.1 1669.6,1254.0 1688.1,1284.0 1684.7,1286.2Z" fill="#ff8000"/>
<path d="M1650.0,1293.5 1653.4,1289.8 1667.4,1300.7 1665.1,1304.7Z" fill="#ff7800"/>
<path d="M1647.2,1298.5 1650.0,1294.6 1665.1,1305.2 1662.9,1308.6Z" fill="#d03000"/>
<path d="M1680.8,1289.0 1688.1,1284.0 1699.8,1299.6 1693.1,1303.3Z" fill="#cccccc"/>
<path d="M1677.4,1291.2 1680.8,1289.0 1693.1,1303.3 1690.9,1305.8Z" fill="#ffa030"/>
<path d="M1714.7,1297.1 1710.1,1276.6 1715.0,1275.9 1718.6,1296.6Z" fill="#000e8c"/>
<path d="M1722.1,1315.9 1718.6,1296.6 1722.6,1296.4 1725.2,1315.9Z" fill="#cccccc"/>
<path d="M1718.6,1296.6 1715.0,1275.9 1719.8,1275.5 1722.6,1296.4Z" fill="#cccccc"/>
<path d="M1715.0,1275.9 1711.5,1256.2 1717.2,1255.6 1719.8,1275.5Z" fill="#c81e00"/>
<path d="M1711.5,1256.2 1707.8,1235.5 1714.5,1234.8 1717.2,1255.6Z" fill="#cccccc"/>
<path d="M1725.2,1315.9 1722.6,1296.4 1726.5,1296.5 1728.2,1316.3Z" fill="#a00000"/>
<path d="M1722.6,1296.4 1719.8,1275.5 1724.7,1275.4 1726.5,1296.5Z" fill="#a00000"/>
<path d="M1728.2,1316.3 1726.5,1296.5 1730.5,1296.9 1731.2,1316.9Z" fill="#c81e00"/>
<path d="M1726.5,1296.5 1724.7,1275.4 1729.6,1275.7 1730.5,1296.9Z" fill="#c81e00"/>
<path d="M1724.7,1275.4 1723.0,1255.4 1728.8,1255.6 1729.6,1275.7Z" fill="#dc4000"/>
<path d="M1723.0,1255.4 1721.3,1234.4 1728.0,1234.5 1728.8,1255.6Z" fill="#ff7e00"/>
<path d="M1731.2,1316.9 1730.5,1296.9 1734.3,1297.6 1734.2,1317.8Z" fill="#cccccc"/>
<path d="M1730.5,1296.9 1729.6,1275.7 1734.5,1276.3 1734.3,1297.6Z" fill="#dc4000"/>
<path d="M1729.6,1275.7 1728.8,1255.6 1734.6,1256.1 1734.5,1276.3Z" fill="#cccccc"/>
<path d="M1728.8,1255.6 1728.0,1234.5 1734.8,1235.0 1734.6,1256.1Z" fill="#dc4000"/>
<path d="M1728.0,1234.5 1727.3,1215.0 1734.9,1215.4 1734.8,1235.0Z" fill="#cccccc"/>
<path d="M1734.2,1317.8 1734.3,1297.6 1738.1,1298.6 1737.0,1319.0Z" fill="#a00000"/>
<path d="M1734.3,1297.6 1734.5,1276.3 1739.2,1277.2 1738.1,1298.6Z" fill="#cccccc"/>
<path d="M1734.5,1276.3 1734.6,1256.1 1740.3,1257.0 1739.2,1277.2Z" fill="#a00000"/>
<path d="M1737.0,1319.0 1738.1,1298.6 1741.8,1299.8 1739.7,1320.5Z" fill="#cccccc"/>
<path d="M1738.1,1298.6 1739.2,1277.2 1743.9,1278.4 1741.8,1299.8Z" fill="#a00000"/>
<path d="M1739.2,1277.2 1740.3,1257.0 1746.0,1258.2 1743.9,1278.4Z" fill="#a00000"/>
<path d="M1741.4,1235.9 1742.5,1216.3 1750.0,1217.6 1748.1,1237.1Z" fill="#a00000"/>
<path d="M1739.7,1320.5 1741.8,1299.8 1745.4,1301.4 1742.3,1322.2Z" fill="#a00000"/>
<path d="M1741.8,1299.8 1743.9,1278.4 1748.5,1279.9 1745.4,1301.4Z" fill="#cccccc"/>
<path d="M1743.9,1278.4 1746.0,1258.2 1751.5,1259.8 1748.5,1279.9Z" fill="#ff7e00"/>
<path d="M1746.0,1258.2 1748.1,1237.1 1754.6,1238.8 1751.5,1259.8Z" fill="#dc4000"/>
<path d="M1748.1,1237.1 1750.0,1217.6 1757.5,1219.4 1754.6,1238.8Z" fill="#ff7e00"/>
<path d="M1742.3,1322.2 1745.4,1301.4 1748.8,1303.2 1744.6,1324.1Z" fill="#a00000"/>
<path d="M1745.4,1301.4 1748.5,1279.9 1753.0,1281.8 1748.8,1303.2Z" fill="#cccccc"/>
<path d="M1748.5,1279.9 1751.5,1259.8 1756.9,1261.7 1753.0,1281.8Z" fill="#cccccc"/>
<path d="M1751.5,1259.8 1754.6,1238.8 1761.0,1240.9 1756.9,1261.7Z" fill="#dc4000"/>
<path d="M1744.6,1324.1 1748.8,1303.2 1752.0,1305.2 1746.8,1326.3Z" fill="#cccccc"/>
<path d="M1753.0,1281.8 1756.9,1261.7 1762.2,1264.0 1757.3,1283.9Z" fill="#a00000"/>
<path d="M1746.8,1326.3 1752.0,1305.2 1755.1,1307.5 1748.8,1328.7Z" fill="#000e8c"/>
<path d="M1752.0,1305.2 1757.3,1283.9 1761.4,1286.3 1755.1,1307.5Z" fill="#cccccc"/>
<path d="M1757.3,1283.9 1762.2,1264.0 1767.3,1266.6 1761.4,1286.3Z" fill="#cccccc"/>
<path d="M1748.8,1328.7 1755.1,1307.5 1758.0,1309.9 1750.5,1331.3Z" fill="#cccccc"/>
<path d="M1755.1,1307.5 1761.4,1286.3 1765.4,1288.9 1758.0,1309.9Z" fill="#0040c0"/>
<path d="M1761.4,1286.3 1767.3,1266.6 1772.3,1269.4 1765.4,1288.9Z" fill="#a00000"/>
<path d="M1750.5,1331.3 1758.0,1309.9 1760.7,1312.6 1751.9,1334.0Z" fill="#a00000"/>
<path d="M1758.0,1309.9 1765.4,1288.9 1769.1,1291.8 1760.7,1312.6Z" fill="#cccccc"/>
<path d="M1765.4,1288.9 1772.3,1269.4 1777.0,1272.6 1769.1,1291.8Z" fill="#000e8c"/>
<path d="M1772.3,1269.4 1779.4,1249.2 1785.1,1252.7 1777.0,1272.6Z" fill="#cccccc"/>
<path d="M1779.4,1249.2 1786.0,1230.6 1792.6,1234.4 1785.1,1252.7Z" fill="#a00000"/>
<path d="M1769.1,1291.8 1777.0,1272.6 1781.5,1276.1 1772.7,1294.9Z" fill="#a00000"/>
<path d="M1777.0,1272.6 1785.1,1252.7 1790.6,1256.6 1781.5,1276.1Z" fill="#a00000"/>
<path d="M1785.1,1252.7 1792.6,1234.4 1799.0,1238.6 1790.6,1256.6Z" fill="#cccccc"/>
<path d="M1753.1,1336.8 1763.1,1315.4 1765.3,1318.4 1754.0,1339.8Z" fill="#c81e00"/>
<path d="M1763.1,1315.4 1772.7,1294.9 1776.0,1298.2 1765.3,1318.4Z" fill="#c81e00"/>
<path d="M1781.5,1276.1 1790.6,1256.6 1795.9,1260.7 1785.8,1279.8Z" fill="#cccccc"/>
<path d="M1790.6,1256.6 1799.0,1238.6 1805.2,1243.2 1795.9,1260.7Z" fill="#000e8c"/>
<path d="M1754.0,1339.8 1765.3,1318.4 1767.3,1321.5 1754.6,1342.8Z" fill="#000e8c"/>
<path d="M1765.3,1318.4 1776.0,1298.2 1779.1,1301.7 1767.3,1321.5Z" fill="#000e8c"/>
</g>
<path d="M1508.7,940 L1562.6,1039.4 L1609.3,1122.2" stroke="#ff00ff" stroke-width="1.3" fill="none"/>
<path d="M1537.3,940 L1582.8,1031 L1623.5,1116" stroke="#ff00ff" stroke-width="1.3" fill="none"/>
<path d="M1361.9,1317.2 L1383.1,1313 L1384.8,1336 L1363.9,1339.4Z" fill="#c4c4c4" stroke="#ffff00" stroke-width="3.4"/>
</g>
<text x="61.3" y="66.8" font-size="33.6">March, 24 2020</text>
<text x="61.3" y="94.9" font-size="33.6">0958:05 UT</text>
<text x="1001.3" y="1392.6" font-size="33.3">cvw</text>
<text x="1077.4" y="1392.6" font-size="33.3">cve</text>
<text x="1077.3" y="1421.4" font-size="33.3" style="fill:#ff00ff">b05</text>
<text x="1658.6" y="1396.2" font-size="33.3">fhw</text>
<text x="1729" y="1396.2" font-size="33.3">fhe</text>
<text x="1663.5" y="1425" font-size="33.3" style="fill:#ff00ff">b18</text>
<text x="76" y="852.2" font-size="31.3">Velocity (m/s)</text>
<defs>
<linearGradient id="gA" x1="0" y1="0" x2="0" y2="1"><stop offset="0" stop-color="#d8edfd"/><stop offset="0.5" stop-color="#a2d4fa"/><stop offset="1" stop-color="#36a8fe"/></linearGradient>
<linearGradient id="gB" x1="0" y1="0" x2="0" y2="1"><stop offset="0" stop-color="#1f9fff"/><stop offset="0.5" stop-color="#0a8cf5"/><stop offset="1" stop-color="#0070e2"/></linearGradient>
<linearGradient id="gC" x1="0" y1="0" x2="0" y2="1"><stop offset="0" stop-color="#0068d8"/><stop offset="0.5" stop-color="#004ec0"/><stop offset="1" stop-color="#0030a8"/></linearGradient>
<linearGradient id="gD" x1="0" y1="0" x2="0" y2="1"><stop offset="0" stop-color="#0028a2"/><stop offset="0.5" stop-color="#001894"/><stop offset="1" stop-color="#00088a"/></linearGradient>
<linearGradient id="gE" x1="0" y1="0" x2="0" y2="1"><stop offset="0" stop-color="#8c0000"/><stop offset="0.5" stop-color="#980000"/><stop offset="1" stop-color="#a80000"/></linearGradient>
<linearGradient id="gF" x1="0" y1="0" x2="0" y2="1"><stop offset="0" stop-color="#aa0000"/><stop offset="0.5" stop-color="#c82000"/><stop offset="1" stop-color="#e24a00"/></linearGradient>
<linearGradient id="gG" x1="0" y1="0" x2="0" y2="1"><stop offset="0" stop-color="#e85000"/><stop offset="0.5" stop-color="#f86c00"/><stop offset="1" stop-color="#ff8c18"/></linearGradient>
<linearGradient id="gH" x1="0" y1="0" x2="0" y2="1"><stop offset="0" stop-color="#ffa040"/><stop offset="0.5" stop-color="#ffc890"/><stop offset="1" stop-color="#ffeada"/></linearGradient>
</defs>
<rect x="150.6" y="895.5" width="38" height="54.2" fill="url(#gA)"/>
<rect x="150.6" y="949.7" width="38" height="54.2" fill="url(#gB)"/>
<rect x="150.6" y="1003.9" width="38" height="54.2" fill="url(#gC)"/>
<rect x="150.6" y="1058.1" width="38" height="32.5" fill="url(#gD)"/>
<rect x="150.6" y="1134.0" width="38" height="32.5" fill="url(#gE)"/>
<rect x="150.6" y="1166.5" width="38" height="54.2" fill="url(#gF)"/>
<rect x="150.6" y="1220.7" width="38" height="54.2" fill="url(#gG)"/>
<rect x="150.6" y="1274.9" width="38" height="54.2" fill="url(#gH)"/>
<rect x="150.6" y="1090.6" width="38" height="43.4" fill="#cccccc"/>
<rect x="150.6" y="895.5" width="38" height="433.6" fill="none" stroke="#000" stroke-width="1.2"/>
<path d="M150.6,949.7 H188.6" stroke="#000" stroke-width="1.3"/>
<path d="M150.6,1003.9 H188.6" stroke="#000" stroke-width="1.3"/>
<path d="M150.6,1058.1 H188.6" stroke="#000" stroke-width="1.3"/>
<path d="M150.6,1112.3 H188.6" stroke="#000" stroke-width="1.3"/>
<path d="M150.6,1166.5 H188.6" stroke="#000" stroke-width="1.3"/>
<path d="M150.6,1220.7 H188.6" stroke="#000" stroke-width="1.3"/>
<path d="M150.6,1274.9 H188.6" stroke="#000" stroke-width="1.3"/>
<text x="136.3" y="895.5" font-size="24" text-anchor="end">100</text>
<text x="136.3" y="949.7" font-size="24" text-anchor="end">75</text>
<text x="136.3" y="1003.9" font-size="24" text-anchor="end">50</text>
<text x="136.3" y="1058.1" font-size="24" text-anchor="end">25</text>
<text x="136.3" y="1112.3" font-size="24" text-anchor="end">0</text>
<text x="136.3" y="1166.5" font-size="24" text-anchor="end">-25</text>
<text x="136.3" y="1220.7" font-size="24" text-anchor="end">-50</text>
<text x="136.3" y="1274.9" font-size="24" text-anchor="end">-75</text>
<text x="136.3" y="1329.1" font-size="24" text-anchor="end">-100</text>
<text x="201.5" y="915.8" font-size="25.6">toward</text>
<text x="201.5" y="1328.8" font-size="25">away</text>
<text x="201.5" y="1091" font-size="24">10</text>
<text x="201.5" y="1155" font-size="24">-10</text>
<text x="403.6" y="985" font-size="33.4" text-anchor="middle">Frequency</text>
<text x="317.6" y="1017.9" font-size="31.2" text-anchor="middle">cvw</text>
<rect x="298.6" y="1029.9" width="37.9" height="299.4" fill="none" stroke="#000" stroke-width="1.3"/>
<path d="M298.6,1059.8 H336.5" stroke="#000" stroke-width="1.3"/>
<path d="M298.6,1089.8 H336.5" stroke="#000" stroke-width="1.3"/>
<path d="M298.6,1119.7 H336.5" stroke="#000" stroke-width="1.3"/>
<path d="M298.6,1149.7 H336.5" stroke="#000" stroke-width="1.3"/>
<path d="M298.6,1179.6 H336.5" stroke="#000" stroke-width="1.3"/>
<path d="M298.6,1209.5 H336.5" stroke="#000" stroke-width="1.3"/>
<path d="M298.6,1239.5 H336.5" stroke="#000" stroke-width="1.3"/>
<path d="M298.6,1269.4 H336.5" stroke="#000" stroke-width="1.3"/>
<path d="M298.6,1299.4 H336.5" stroke="#000" stroke-width="1.3"/>
<text x="374.5" y="1017.9" font-size="31.2" text-anchor="middle">cve</text>
<rect x="355.5" y="1029.9" width="38" height="299.4" fill="none" stroke="#000" stroke-width="1.3"/>
<path d="M355.5,1059.8 H393.5" stroke="#000" stroke-width="1.3"/>
<path d="M355.5,1089.8 H393.5" stroke="#000" stroke-width="1.3"/>
<path d="M355.5,1119.7 H393.5" stroke="#000" stroke-width="1.3"/>
<path d="M355.5,1149.7 H393.5" stroke="#000" stroke-width="1.3"/>
<path d="M355.5,1179.6 H393.5" stroke="#000" stroke-width="1.3"/>
<path d="M355.5,1209.5 H393.5" stroke="#000" stroke-width="1.3"/>
<path d="M355.5,1239.5 H393.5" stroke="#000" stroke-width="1.3"/>
<path d="M355.5,1269.4 H393.5" stroke="#000" stroke-width="1.3"/>
<path d="M355.5,1299.4 H393.5" stroke="#000" stroke-width="1.3"/>
<text x="431.1" y="1017.9" font-size="31.2" text-anchor="middle">fhw</text>
<rect x="412" y="1029.9" width="38.2" height="299.4" fill="none" stroke="#000" stroke-width="1.3"/>
<path d="M412,1059.8 H450.2" stroke="#000" stroke-width="1.3"/>
<path d="M412,1089.8 H450.2" stroke="#000" stroke-width="1.3"/>
<path d="M412,1119.7 H450.2" stroke="#000" stroke-width="1.3"/>
<path d="M412,1149.7 H450.2" stroke="#000" stroke-width="1.3"/>
<path d="M412,1179.6 H450.2" stroke="#000" stroke-width="1.3"/>
<path d="M412,1209.5 H450.2" stroke="#000" stroke-width="1.3"/>
<path d="M412,1239.5 H450.2" stroke="#000" stroke-width="1.3"/>
<path d="M412,1269.4 H450.2" stroke="#000" stroke-width="1.3"/>
<path d="M412,1299.4 H450.2" stroke="#000" stroke-width="1.3"/>
<text x="487.6" y="1017.9" font-size="31.2" text-anchor="middle">fhe</text>
<rect x="468.6" y="1029.9" width="38.1" height="299.4" fill="none" stroke="#000" stroke-width="1.3"/>
<path d="M468.6,1059.8 H506.7" stroke="#000" stroke-width="1.3"/>
<path d="M468.6,1089.8 H506.7" stroke="#000" stroke-width="1.3"/>
<path d="M468.6,1119.7 H506.7" stroke="#000" stroke-width="1.3"/>
<path d="M468.6,1149.7 H506.7" stroke="#000" stroke-width="1.3"/>
<path d="M468.6,1179.6 H506.7" stroke="#000" stroke-width="1.3"/>
<path d="M468.6,1209.5 H506.7" stroke="#000" stroke-width="1.3"/>
<path d="M468.6,1239.5 H506.7" stroke="#000" stroke-width="1.3"/>
<path d="M468.6,1269.4 H506.7" stroke="#000" stroke-width="1.3"/>
<path d="M468.6,1299.4 H506.7" stroke="#000" stroke-width="1.3"/>
<text x="290.6" y="1041.5" font-size="24" text-anchor="end">18</text>
<text x="527.9" y="1041.5" font-size="24" text-anchor="middle">18</text>
<text x="290.6" y="1071.4" font-size="24" text-anchor="end">17</text>
<text x="527.9" y="1071.4" font-size="24" text-anchor="middle">17</text>
<text x="290.6" y="1101.4" font-size="24" text-anchor="end">16</text>
<text x="527.9" y="1101.4" font-size="24" text-anchor="middle">16</text>
<text x="290.6" y="1131.3" font-size="24" text-anchor="end">15</text>
<text x="527.9" y="1131.3" font-size="24" text-anchor="middle">15</text>
<text x="290.6" y="1161.3" font-size="24" text-anchor="end">14</text>
<text x="527.9" y="1161.3" font-size="24" text-anchor="middle">14</text>
<text x="290.6" y="1191.2" font-size="24" text-anchor="end">13</text>
<text x="527.9" y="1191.2" font-size="24" text-anchor="middle">13</text>
<text x="290.6" y="1221.1" font-size="24" text-anchor="end">12</text>
<text x="527.9" y="1221.1" font-size="24" text-anchor="middle">12</text>
<text x="290.6" y="1251.1" font-size="24" text-anchor="end">11</text>
<text x="527.9" y="1251.1" font-size="24" text-anchor="middle">11</text>
<text x="290.6" y="1281.0" font-size="24" text-anchor="end">10</text>
<text x="527.9" y="1281.0" font-size="24" text-anchor="middle">10</text>
<text x="290.6" y="1311.0" font-size="24" text-anchor="end">9</text>
<text x="527.9" y="1311.0" font-size="24" text-anchor="middle">9</text>
<text x="290.6" y="1340.9" font-size="24" text-anchor="end">8</text>
<text x="527.9" y="1340.9" font-size="24" text-anchor="middle">8</text>
<rect x="298.6" y="1247.1" width="37.9" height="11.9" fill="#ff4000"/>
<rect x="293.1" y="1247.1" width="48.9" height="3" fill="#ff4000"/>
<rect x="293.1" y="1256" width="48.9" height="3" fill="#ff4000"/>
<rect x="468.6" y="1247.1" width="38.1" height="11.9" fill="#ff4000"/>
<rect x="463.1" y="1247.1" width="49.1" height="3" fill="#ff4000"/>
<rect x="463.1" y="1256" width="49.1" height="3" fill="#ff4000"/>
<rect x="350" y="1241.1" width="49" height="3" fill="#ff4000"/>
<rect x="406.5" y="1241.1" width="49.2" height="3" fill="#ff4000"/>
</svg>
</body></html>
